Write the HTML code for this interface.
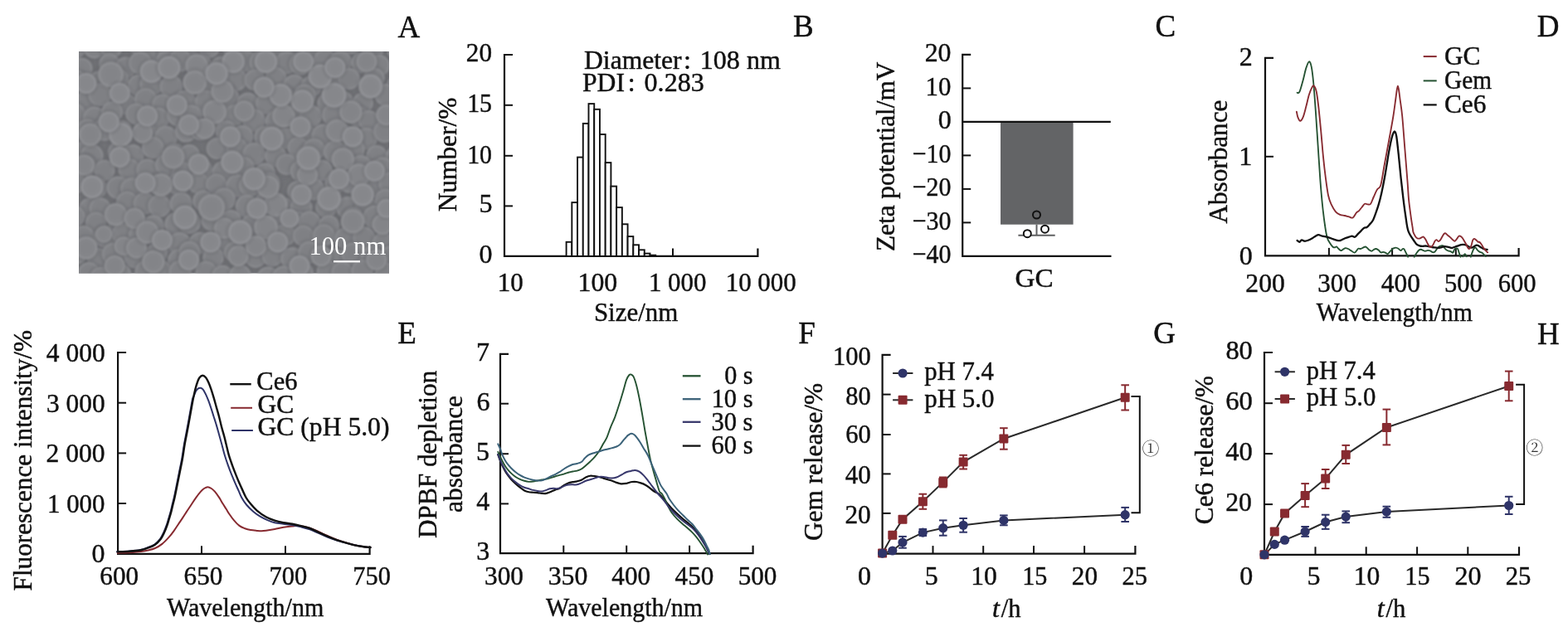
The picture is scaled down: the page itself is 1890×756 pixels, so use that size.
<!DOCTYPE html>
<html><head><meta charset="utf-8"><title>Figure</title>
<style>html,body{margin:0;padding:0;background:#fff}svg{display:block}text{font-family:"Liberation Serif","Noto Serif CJK SC",serif;font-size:32px;fill:#111;stroke:#111;stroke-width:0.45px}</style></head>
<body><svg width="1890" height="756" viewBox="0 0 1890 756">
<rect width="1890" height="756" fill="#fff"/>
<text transform="translate(479.53 44.60) scale(1.0000 1.0)" style="font-size:37px">A</text>
<text transform="translate(956.07 44.20) scale(1.0000 1.0)" style="font-size:37px">B</text>
<text transform="translate(1392.53 44.20) scale(1.0000 1.0)" style="font-size:37px">C</text>
<text transform="translate(1852.87 44.20) scale(1.0000 1.0)" style="font-size:37px">D</text>
<text transform="translate(479.24 414.40) scale(1.0000 1.0)" style="font-size:37px">E</text>
<text transform="translate(962.17 414.40) scale(1.0000 1.0)" style="font-size:37px">F</text>
<text transform="translate(1390.35 414.40) scale(1.0000 1.0)" style="font-size:37px">G</text>
<text transform="translate(1852.98 414.60) scale(1.0000 1.0)" style="font-size:37px">H</text>
<defs><radialGradient id="sg"><stop offset="0" stop-color="#86878b"/><stop offset="0.72" stop-color="#87888c"/><stop offset="0.93" stop-color="#939498"/><stop offset="1" stop-color="#8d8e92"/></radialGradient><radialGradient id="sm"><stop offset="0" stop-color="#838488"/><stop offset="0.72" stop-color="#848589"/><stop offset="0.93" stop-color="#8f9094"/><stop offset="1" stop-color="#898a8e"/></radialGradient><radialGradient id="sb"><stop offset="0" stop-color="#7f8084"/><stop offset="0.72" stop-color="#808185"/><stop offset="0.93" stop-color="#8a8b8f"/><stop offset="1" stop-color="#848589"/></radialGradient><radialGradient id="sh"><stop offset="0.7" stop-color="#5c5d62" stop-opacity="0.34"/><stop offset="1" stop-color="#5c5d62" stop-opacity="0"/></radialGradient><clipPath id="semc"><rect x="95" y="62" width="374" height="267.5"/></clipPath><filter id="semb" x="-5%" y="-5%" width="110%" height="110%"><feGaussianBlur stdDeviation="1.0"/></filter></defs><rect x="95" y="62" width="374" height="267.5" fill="#717276"/><g clip-path="url(#semc)"><g filter="url(#semb)"><circle cx="89.4" cy="57.7" r="19.2" fill="url(#sh)"/><circle cx="89.4" cy="57.7" r="13.9" fill="url(#sb)"/><circle cx="113.6" cy="57.1" r="18.5" fill="url(#sh)"/><circle cx="113.6" cy="57.1" r="13.4" fill="url(#sb)"/><circle cx="134.2" cy="57.1" r="18.6" fill="url(#sh)"/><circle cx="134.2" cy="57.1" r="13.4" fill="url(#sb)"/><circle cx="165.5" cy="52.1" r="17.9" fill="url(#sh)"/><circle cx="165.5" cy="52.1" r="13.0" fill="url(#sb)"/><circle cx="181.1" cy="60.7" r="18.7" fill="url(#sh)"/><circle cx="181.1" cy="60.7" r="13.5" fill="url(#sb)"/><circle cx="204.5" cy="62.8" r="19.2" fill="url(#sh)"/><circle cx="204.5" cy="62.8" r="13.9" fill="url(#sb)"/><circle cx="235.8" cy="58.4" r="17.6" fill="url(#sh)"/><circle cx="235.8" cy="58.4" r="12.7" fill="url(#sb)"/><circle cx="252.2" cy="57.3" r="17.4" fill="url(#sh)"/><circle cx="252.2" cy="57.3" r="12.6" fill="url(#sb)"/><circle cx="278.3" cy="53.9" r="17.3" fill="url(#sh)"/><circle cx="278.3" cy="53.9" r="12.5" fill="url(#sb)"/><circle cx="305.6" cy="56.3" r="19.0" fill="url(#sh)"/><circle cx="305.6" cy="56.3" r="13.8" fill="url(#sb)"/><circle cx="330.2" cy="58.7" r="18.3" fill="url(#sh)"/><circle cx="330.2" cy="58.7" r="13.2" fill="url(#sb)"/><circle cx="355.9" cy="56.5" r="17.8" fill="url(#sh)"/><circle cx="355.9" cy="56.5" r="12.9" fill="url(#sb)"/><circle cx="384.0" cy="62.9" r="19.0" fill="url(#sh)"/><circle cx="384.0" cy="62.9" r="13.8" fill="url(#sb)"/><circle cx="404.5" cy="54.8" r="17.7" fill="url(#sh)"/><circle cx="404.5" cy="54.8" r="12.8" fill="url(#sb)"/><circle cx="423.5" cy="51.8" r="18.8" fill="url(#sh)"/><circle cx="423.5" cy="51.8" r="13.6" fill="url(#sb)"/><circle cx="448.8" cy="61.2" r="18.1" fill="url(#sh)"/><circle cx="448.8" cy="61.2" r="13.1" fill="url(#sb)"/><circle cx="479.5" cy="61.2" r="17.3" fill="url(#sh)"/><circle cx="479.5" cy="61.2" r="12.5" fill="url(#sb)"/><circle cx="98.5" cy="82.9" r="18.2" fill="url(#sh)"/><circle cx="98.5" cy="82.9" r="13.2" fill="url(#sb)"/><circle cx="131.8" cy="76.8" r="17.4" fill="url(#sh)"/><circle cx="131.8" cy="76.8" r="12.6" fill="url(#sb)"/><circle cx="151.6" cy="81.3" r="17.8" fill="url(#sh)"/><circle cx="151.6" cy="81.3" r="12.9" fill="url(#sb)"/><circle cx="169.0" cy="76.0" r="19.2" fill="url(#sh)"/><circle cx="169.0" cy="76.0" r="13.9" fill="url(#sb)"/><circle cx="201.1" cy="73.4" r="17.8" fill="url(#sh)"/><circle cx="201.1" cy="73.4" r="12.9" fill="url(#sb)"/><circle cx="217.2" cy="72.7" r="18.9" fill="url(#sh)"/><circle cx="217.2" cy="72.7" r="13.7" fill="url(#sb)"/><circle cx="242.1" cy="78.7" r="18.2" fill="url(#sh)"/><circle cx="242.1" cy="78.7" r="13.2" fill="url(#sb)"/><circle cx="266.3" cy="80.8" r="17.5" fill="url(#sh)"/><circle cx="266.3" cy="80.8" r="12.7" fill="url(#sb)"/><circle cx="295.7" cy="73.4" r="18.1" fill="url(#sh)"/><circle cx="295.7" cy="73.4" r="13.1" fill="url(#sb)"/><circle cx="314.6" cy="75.2" r="19.3" fill="url(#sh)"/><circle cx="314.6" cy="75.2" r="14.0" fill="url(#sb)"/><circle cx="345.6" cy="75.6" r="19.1" fill="url(#sh)"/><circle cx="345.6" cy="75.6" r="13.8" fill="url(#sb)"/><circle cx="362.5" cy="76.7" r="19.0" fill="url(#sh)"/><circle cx="362.5" cy="76.7" r="13.8" fill="url(#sb)"/><circle cx="391.7" cy="73.2" r="19.3" fill="url(#sh)"/><circle cx="391.7" cy="73.2" r="14.0" fill="url(#sb)"/><circle cx="410.6" cy="75.1" r="18.8" fill="url(#sh)"/><circle cx="410.6" cy="75.1" r="13.7" fill="url(#sb)"/><circle cx="435.9" cy="75.6" r="17.4" fill="url(#sh)"/><circle cx="435.9" cy="75.6" r="12.6" fill="url(#sb)"/><circle cx="457.1" cy="79.0" r="17.8" fill="url(#sh)"/><circle cx="457.1" cy="79.0" r="12.9" fill="url(#sb)"/><circle cx="91.2" cy="97.5" r="18.2" fill="url(#sh)"/><circle cx="91.2" cy="97.5" r="13.2" fill="url(#sb)"/><circle cx="119.5" cy="98.8" r="18.4" fill="url(#sh)"/><circle cx="119.5" cy="98.8" r="13.4" fill="url(#sb)"/><circle cx="142.4" cy="95.2" r="17.6" fill="url(#sh)"/><circle cx="142.4" cy="95.2" r="12.7" fill="url(#sb)"/><circle cx="166.9" cy="102.8" r="17.8" fill="url(#sh)"/><circle cx="166.9" cy="102.8" r="12.9" fill="url(#sb)"/><circle cx="182.3" cy="101.9" r="19.2" fill="url(#sh)"/><circle cx="182.3" cy="101.9" r="13.9" fill="url(#sb)"/><circle cx="206.4" cy="104.4" r="19.1" fill="url(#sh)"/><circle cx="206.4" cy="104.4" r="13.8" fill="url(#sb)"/><circle cx="235.2" cy="98.1" r="17.5" fill="url(#sh)"/><circle cx="235.2" cy="98.1" r="12.7" fill="url(#sb)"/><circle cx="252.5" cy="104.6" r="17.7" fill="url(#sh)"/><circle cx="252.5" cy="104.6" r="12.9" fill="url(#sb)"/><circle cx="284.5" cy="96.1" r="19.0" fill="url(#sh)"/><circle cx="284.5" cy="96.1" r="13.7" fill="url(#sb)"/><circle cx="307.2" cy="96.5" r="17.6" fill="url(#sh)"/><circle cx="307.2" cy="96.5" r="12.8" fill="url(#sb)"/><circle cx="332.6" cy="93.8" r="17.7" fill="url(#sh)"/><circle cx="332.6" cy="93.8" r="12.8" fill="url(#sb)"/><circle cx="354.7" cy="103.2" r="18.5" fill="url(#sh)"/><circle cx="354.7" cy="103.2" r="13.4" fill="url(#sb)"/><circle cx="375.4" cy="104.0" r="17.7" fill="url(#sh)"/><circle cx="375.4" cy="104.0" r="12.8" fill="url(#sb)"/><circle cx="396.2" cy="96.2" r="18.2" fill="url(#sh)"/><circle cx="396.2" cy="96.2" r="13.2" fill="url(#sb)"/><circle cx="420.7" cy="95.1" r="18.0" fill="url(#sh)"/><circle cx="420.7" cy="95.1" r="13.1" fill="url(#sb)"/><circle cx="450.9" cy="94.6" r="18.0" fill="url(#sh)"/><circle cx="450.9" cy="94.6" r="13.0" fill="url(#sb)"/><circle cx="478.7" cy="104.8" r="18.6" fill="url(#sh)"/><circle cx="478.7" cy="104.8" r="13.5" fill="url(#sb)"/><circle cx="104.3" cy="121.0" r="17.5" fill="url(#sh)"/><circle cx="104.3" cy="121.0" r="12.7" fill="url(#sb)"/><circle cx="120.4" cy="114.2" r="19.1" fill="url(#sh)"/><circle cx="120.4" cy="114.2" r="13.9" fill="url(#sb)"/><circle cx="152.4" cy="125.6" r="17.3" fill="url(#sh)"/><circle cx="152.4" cy="125.6" r="12.5" fill="url(#sb)"/><circle cx="175.6" cy="119.8" r="18.8" fill="url(#sh)"/><circle cx="175.6" cy="119.8" r="13.6" fill="url(#sb)"/><circle cx="195.8" cy="126.0" r="17.4" fill="url(#sh)"/><circle cx="195.8" cy="126.0" r="12.6" fill="url(#sb)"/><circle cx="222.6" cy="122.8" r="19.1" fill="url(#sh)"/><circle cx="222.6" cy="122.8" r="13.9" fill="url(#sb)"/><circle cx="248.8" cy="122.4" r="18.9" fill="url(#sh)"/><circle cx="248.8" cy="122.4" r="13.7" fill="url(#sb)"/><circle cx="275.0" cy="118.2" r="18.7" fill="url(#sh)"/><circle cx="275.0" cy="118.2" r="13.5" fill="url(#sb)"/><circle cx="298.8" cy="124.5" r="18.1" fill="url(#sh)"/><circle cx="298.8" cy="124.5" r="13.1" fill="url(#sb)"/><circle cx="321.5" cy="124.4" r="18.4" fill="url(#sh)"/><circle cx="321.5" cy="124.4" r="13.4" fill="url(#sb)"/><circle cx="343.5" cy="118.6" r="18.5" fill="url(#sh)"/><circle cx="343.5" cy="118.6" r="13.4" fill="url(#sb)"/><circle cx="367.3" cy="115.0" r="18.6" fill="url(#sh)"/><circle cx="367.3" cy="115.0" r="13.5" fill="url(#sb)"/><circle cx="395.9" cy="124.6" r="18.8" fill="url(#sh)"/><circle cx="395.9" cy="124.6" r="13.6" fill="url(#sb)"/><circle cx="412.7" cy="122.8" r="18.5" fill="url(#sh)"/><circle cx="412.7" cy="122.8" r="13.4" fill="url(#sb)"/><circle cx="437.3" cy="124.1" r="17.4" fill="url(#sh)"/><circle cx="437.3" cy="124.1" r="12.6" fill="url(#sb)"/><circle cx="465.0" cy="114.4" r="18.5" fill="url(#sh)"/><circle cx="465.0" cy="114.4" r="13.4" fill="url(#sb)"/><circle cx="89.8" cy="137.8" r="18.7" fill="url(#sh)"/><circle cx="89.8" cy="137.8" r="13.5" fill="url(#sb)"/><circle cx="114.0" cy="142.4" r="19.2" fill="url(#sh)"/><circle cx="114.0" cy="142.4" r="13.9" fill="url(#sb)"/><circle cx="135.1" cy="135.1" r="17.9" fill="url(#sh)"/><circle cx="135.1" cy="135.1" r="13.0" fill="url(#sb)"/><circle cx="164.1" cy="137.4" r="17.6" fill="url(#sh)"/><circle cx="164.1" cy="137.4" r="12.8" fill="url(#sb)"/><circle cx="190.9" cy="142.9" r="18.2" fill="url(#sh)"/><circle cx="190.9" cy="142.9" r="13.2" fill="url(#sb)"/><circle cx="214.7" cy="138.9" r="18.6" fill="url(#sh)"/><circle cx="214.7" cy="138.9" r="13.5" fill="url(#sb)"/><circle cx="230.4" cy="140.2" r="18.9" fill="url(#sh)"/><circle cx="230.4" cy="140.2" r="13.7" fill="url(#sb)"/><circle cx="263.0" cy="145.6" r="18.0" fill="url(#sh)"/><circle cx="263.0" cy="145.6" r="13.1" fill="url(#sb)"/><circle cx="283.0" cy="138.8" r="17.5" fill="url(#sh)"/><circle cx="283.0" cy="138.8" r="12.7" fill="url(#sb)"/><circle cx="306.0" cy="145.0" r="19.0" fill="url(#sh)"/><circle cx="306.0" cy="145.0" r="13.8" fill="url(#sb)"/><circle cx="332.5" cy="146.4" r="17.8" fill="url(#sh)"/><circle cx="332.5" cy="146.4" r="12.9" fill="url(#sb)"/><circle cx="350.0" cy="140.4" r="17.8" fill="url(#sh)"/><circle cx="350.0" cy="140.4" r="12.9" fill="url(#sb)"/><circle cx="374.6" cy="140.0" r="18.5" fill="url(#sh)"/><circle cx="374.6" cy="140.0" r="13.4" fill="url(#sb)"/><circle cx="401.9" cy="138.8" r="19.0" fill="url(#sh)"/><circle cx="401.9" cy="138.8" r="13.8" fill="url(#sb)"/><circle cx="431.8" cy="140.4" r="17.4" fill="url(#sh)"/><circle cx="431.8" cy="140.4" r="12.6" fill="url(#sb)"/><circle cx="444.4" cy="145.5" r="17.3" fill="url(#sh)"/><circle cx="444.4" cy="145.5" r="12.6" fill="url(#sb)"/><circle cx="476.5" cy="141.8" r="17.9" fill="url(#sh)"/><circle cx="476.5" cy="141.8" r="13.0" fill="url(#sb)"/><circle cx="105.5" cy="156.2" r="17.5" fill="url(#sh)"/><circle cx="105.5" cy="156.2" r="12.7" fill="url(#sb)"/><circle cx="125.5" cy="156.3" r="19.0" fill="url(#sh)"/><circle cx="125.5" cy="156.3" r="13.7" fill="url(#sb)"/><circle cx="146.8" cy="157.7" r="17.3" fill="url(#sh)"/><circle cx="146.8" cy="157.7" r="12.6" fill="url(#sb)"/><circle cx="175.6" cy="161.4" r="18.6" fill="url(#sh)"/><circle cx="175.6" cy="161.4" r="13.4" fill="url(#sb)"/><circle cx="199.9" cy="165.7" r="19.2" fill="url(#sh)"/><circle cx="199.9" cy="165.7" r="13.9" fill="url(#sb)"/><circle cx="224.2" cy="158.4" r="18.2" fill="url(#sh)"/><circle cx="224.2" cy="158.4" r="13.2" fill="url(#sb)"/><circle cx="242.1" cy="156.1" r="18.2" fill="url(#sh)"/><circle cx="242.1" cy="156.1" r="13.2" fill="url(#sb)"/><circle cx="272.6" cy="158.1" r="17.8" fill="url(#sh)"/><circle cx="272.6" cy="158.1" r="12.9" fill="url(#sb)"/><circle cx="292.1" cy="164.4" r="18.3" fill="url(#sh)"/><circle cx="292.1" cy="164.4" r="13.3" fill="url(#sb)"/><circle cx="319.4" cy="165.1" r="18.1" fill="url(#sh)"/><circle cx="319.4" cy="165.1" r="13.1" fill="url(#sb)"/><circle cx="345.5" cy="166.9" r="17.4" fill="url(#sh)"/><circle cx="345.5" cy="166.9" r="12.6" fill="url(#sb)"/><circle cx="371.2" cy="164.7" r="17.5" fill="url(#sh)"/><circle cx="371.2" cy="164.7" r="12.7" fill="url(#sb)"/><circle cx="389.4" cy="163.5" r="19.1" fill="url(#sh)"/><circle cx="389.4" cy="163.5" r="13.9" fill="url(#sb)"/><circle cx="412.5" cy="162.8" r="19.1" fill="url(#sh)"/><circle cx="412.5" cy="162.8" r="13.8" fill="url(#sb)"/><circle cx="441.6" cy="167.3" r="18.2" fill="url(#sh)"/><circle cx="441.6" cy="167.3" r="13.2" fill="url(#sb)"/><circle cx="463.8" cy="158.5" r="18.7" fill="url(#sh)"/><circle cx="463.8" cy="158.5" r="13.6" fill="url(#sb)"/><circle cx="93.8" cy="184.7" r="18.7" fill="url(#sh)"/><circle cx="93.8" cy="184.7" r="13.6" fill="url(#sb)"/><circle cx="110.6" cy="187.8" r="19.3" fill="url(#sh)"/><circle cx="110.6" cy="187.8" r="14.0" fill="url(#sb)"/><circle cx="143.7" cy="183.4" r="18.9" fill="url(#sh)"/><circle cx="143.7" cy="183.4" r="13.7" fill="url(#sb)"/><circle cx="159.8" cy="187.9" r="19.0" fill="url(#sh)"/><circle cx="159.8" cy="187.9" r="13.8" fill="url(#sb)"/><circle cx="184.2" cy="178.0" r="18.2" fill="url(#sh)"/><circle cx="184.2" cy="178.0" r="13.2" fill="url(#sb)"/><circle cx="210.6" cy="186.2" r="18.3" fill="url(#sh)"/><circle cx="210.6" cy="186.2" r="13.2" fill="url(#sb)"/><circle cx="228.3" cy="186.7" r="17.4" fill="url(#sh)"/><circle cx="228.3" cy="186.7" r="12.6" fill="url(#sb)"/><circle cx="261.6" cy="179.1" r="17.9" fill="url(#sh)"/><circle cx="261.6" cy="179.1" r="13.0" fill="url(#sb)"/><circle cx="285.5" cy="178.7" r="17.6" fill="url(#sh)"/><circle cx="285.5" cy="178.7" r="12.7" fill="url(#sb)"/><circle cx="306.2" cy="185.7" r="19.0" fill="url(#sh)"/><circle cx="306.2" cy="185.7" r="13.8" fill="url(#sb)"/><circle cx="332.3" cy="188.3" r="18.3" fill="url(#sh)"/><circle cx="332.3" cy="188.3" r="13.2" fill="url(#sb)"/><circle cx="359.4" cy="178.0" r="17.7" fill="url(#sh)"/><circle cx="359.4" cy="178.0" r="12.8" fill="url(#sb)"/><circle cx="378.3" cy="180.5" r="18.8" fill="url(#sh)"/><circle cx="378.3" cy="180.5" r="13.6" fill="url(#sb)"/><circle cx="403.7" cy="183.3" r="19.0" fill="url(#sh)"/><circle cx="403.7" cy="183.3" r="13.8" fill="url(#sb)"/><circle cx="426.7" cy="180.7" r="18.0" fill="url(#sh)"/><circle cx="426.7" cy="180.7" r="13.1" fill="url(#sb)"/><circle cx="454.1" cy="187.8" r="17.7" fill="url(#sh)"/><circle cx="454.1" cy="187.8" r="12.8" fill="url(#sb)"/><circle cx="478.2" cy="188.6" r="18.3" fill="url(#sh)"/><circle cx="478.2" cy="188.6" r="13.3" fill="url(#sb)"/><circle cx="102.9" cy="200.4" r="18.4" fill="url(#sh)"/><circle cx="102.9" cy="200.4" r="13.3" fill="url(#sb)"/><circle cx="126.0" cy="205.3" r="17.3" fill="url(#sh)"/><circle cx="126.0" cy="205.3" r="12.5" fill="url(#sb)"/><circle cx="155.6" cy="204.2" r="18.1" fill="url(#sh)"/><circle cx="155.6" cy="204.2" r="13.1" fill="url(#sb)"/><circle cx="177.6" cy="204.8" r="18.3" fill="url(#sh)"/><circle cx="177.6" cy="204.8" r="13.2" fill="url(#sb)"/><circle cx="200.3" cy="198.8" r="18.4" fill="url(#sh)"/><circle cx="200.3" cy="198.8" r="13.3" fill="url(#sb)"/><circle cx="221.0" cy="209.5" r="19.2" fill="url(#sh)"/><circle cx="221.0" cy="209.5" r="13.9" fill="url(#sb)"/><circle cx="243.2" cy="203.7" r="17.5" fill="url(#sh)"/><circle cx="243.2" cy="203.7" r="12.7" fill="url(#sb)"/><circle cx="269.2" cy="207.8" r="19.1" fill="url(#sh)"/><circle cx="269.2" cy="207.8" r="13.9" fill="url(#sb)"/><circle cx="293.7" cy="201.8" r="17.6" fill="url(#sh)"/><circle cx="293.7" cy="201.8" r="12.8" fill="url(#sb)"/><circle cx="319.4" cy="209.1" r="17.5" fill="url(#sh)"/><circle cx="319.4" cy="209.1" r="12.7" fill="url(#sb)"/><circle cx="345.4" cy="198.3" r="17.7" fill="url(#sh)"/><circle cx="345.4" cy="198.3" r="12.8" fill="url(#sb)"/><circle cx="362.7" cy="206.2" r="17.9" fill="url(#sh)"/><circle cx="362.7" cy="206.2" r="13.0" fill="url(#sb)"/><circle cx="388.3" cy="205.4" r="17.5" fill="url(#sh)"/><circle cx="388.3" cy="205.4" r="12.7" fill="url(#sb)"/><circle cx="416.8" cy="199.5" r="18.3" fill="url(#sh)"/><circle cx="416.8" cy="199.5" r="13.3" fill="url(#sb)"/><circle cx="435.0" cy="200.4" r="18.3" fill="url(#sh)"/><circle cx="435.0" cy="200.4" r="13.3" fill="url(#sb)"/><circle cx="461.2" cy="202.5" r="18.1" fill="url(#sh)"/><circle cx="461.2" cy="202.5" r="13.1" fill="url(#sb)"/><circle cx="90.4" cy="220.9" r="17.7" fill="url(#sh)"/><circle cx="90.4" cy="220.9" r="12.8" fill="url(#sb)"/><circle cx="115.6" cy="226.7" r="18.3" fill="url(#sh)"/><circle cx="115.6" cy="226.7" r="13.3" fill="url(#sb)"/><circle cx="142.2" cy="226.3" r="19.0" fill="url(#sh)"/><circle cx="142.2" cy="226.3" r="13.8" fill="url(#sb)"/><circle cx="158.8" cy="227.9" r="18.9" fill="url(#sh)"/><circle cx="158.8" cy="227.9" r="13.7" fill="url(#sb)"/><circle cx="190.8" cy="222.8" r="17.9" fill="url(#sh)"/><circle cx="190.8" cy="222.8" r="13.0" fill="url(#sb)"/><circle cx="215.1" cy="221.6" r="19.3" fill="url(#sh)"/><circle cx="215.1" cy="221.6" r="14.0" fill="url(#sb)"/><circle cx="238.7" cy="220.6" r="17.7" fill="url(#sh)"/><circle cx="238.7" cy="220.6" r="12.9" fill="url(#sb)"/><circle cx="260.7" cy="222.1" r="17.5" fill="url(#sh)"/><circle cx="260.7" cy="222.1" r="12.6" fill="url(#sb)"/><circle cx="286.0" cy="224.1" r="18.9" fill="url(#sh)"/><circle cx="286.0" cy="224.1" r="13.7" fill="url(#sb)"/><circle cx="301.5" cy="223.8" r="18.7" fill="url(#sh)"/><circle cx="301.5" cy="223.8" r="13.5" fill="url(#sb)"/><circle cx="324.2" cy="221.4" r="18.7" fill="url(#sh)"/><circle cx="324.2" cy="221.4" r="13.5" fill="url(#sb)"/><circle cx="358.9" cy="230.6" r="17.5" fill="url(#sh)"/><circle cx="358.9" cy="230.6" r="12.7" fill="url(#sb)"/><circle cx="378.1" cy="228.1" r="18.3" fill="url(#sh)"/><circle cx="378.1" cy="228.1" r="13.3" fill="url(#sb)"/><circle cx="404.2" cy="221.3" r="17.4" fill="url(#sh)"/><circle cx="404.2" cy="221.3" r="12.6" fill="url(#sb)"/><circle cx="421.3" cy="219.4" r="18.4" fill="url(#sh)"/><circle cx="421.3" cy="219.4" r="13.3" fill="url(#sb)"/><circle cx="450.2" cy="225.8" r="17.6" fill="url(#sh)"/><circle cx="450.2" cy="225.8" r="12.7" fill="url(#sb)"/><circle cx="470.2" cy="221.4" r="19.0" fill="url(#sh)"/><circle cx="470.2" cy="221.4" r="13.8" fill="url(#sb)"/><circle cx="107.9" cy="251.1" r="17.4" fill="url(#sh)"/><circle cx="107.9" cy="251.1" r="12.6" fill="url(#sb)"/><circle cx="120.7" cy="251.4" r="18.2" fill="url(#sh)"/><circle cx="120.7" cy="251.4" r="13.2" fill="url(#sb)"/><circle cx="153.2" cy="243.9" r="18.2" fill="url(#sh)"/><circle cx="153.2" cy="243.9" r="13.2" fill="url(#sb)"/><circle cx="174.2" cy="245.2" r="18.5" fill="url(#sh)"/><circle cx="174.2" cy="245.2" r="13.4" fill="url(#sb)"/><circle cx="192.2" cy="248.4" r="19.0" fill="url(#sh)"/><circle cx="192.2" cy="248.4" r="13.8" fill="url(#sb)"/><circle cx="218.2" cy="245.4" r="18.8" fill="url(#sh)"/><circle cx="218.2" cy="245.4" r="13.6" fill="url(#sb)"/><circle cx="244.9" cy="242.3" r="17.6" fill="url(#sh)"/><circle cx="244.9" cy="242.3" r="12.7" fill="url(#sb)"/><circle cx="270.2" cy="240.2" r="19.1" fill="url(#sh)"/><circle cx="270.2" cy="240.2" r="13.8" fill="url(#sb)"/><circle cx="297.6" cy="248.5" r="19.0" fill="url(#sh)"/><circle cx="297.6" cy="248.5" r="13.8" fill="url(#sb)"/><circle cx="319.6" cy="244.9" r="18.5" fill="url(#sh)"/><circle cx="319.6" cy="244.9" r="13.4" fill="url(#sb)"/><circle cx="342.1" cy="251.8" r="18.9" fill="url(#sh)"/><circle cx="342.1" cy="251.8" r="13.7" fill="url(#sb)"/><circle cx="363.1" cy="250.9" r="18.8" fill="url(#sh)"/><circle cx="363.1" cy="250.9" r="13.6" fill="url(#sb)"/><circle cx="393.3" cy="249.8" r="18.1" fill="url(#sh)"/><circle cx="393.3" cy="249.8" r="13.1" fill="url(#sb)"/><circle cx="418.8" cy="250.6" r="18.7" fill="url(#sh)"/><circle cx="418.8" cy="250.6" r="13.5" fill="url(#sb)"/><circle cx="441.2" cy="249.2" r="18.1" fill="url(#sh)"/><circle cx="441.2" cy="249.2" r="13.1" fill="url(#sb)"/><circle cx="464.7" cy="240.8" r="18.0" fill="url(#sh)"/><circle cx="464.7" cy="240.8" r="13.0" fill="url(#sb)"/><circle cx="89.6" cy="261.1" r="18.0" fill="url(#sh)"/><circle cx="89.6" cy="261.1" r="13.0" fill="url(#sb)"/><circle cx="115.7" cy="268.5" r="17.7" fill="url(#sh)"/><circle cx="115.7" cy="268.5" r="12.8" fill="url(#sb)"/><circle cx="143.3" cy="269.0" r="17.9" fill="url(#sh)"/><circle cx="143.3" cy="269.0" r="13.0" fill="url(#sb)"/><circle cx="163.9" cy="267.8" r="18.4" fill="url(#sh)"/><circle cx="163.9" cy="267.8" r="13.3" fill="url(#sb)"/><circle cx="184.7" cy="273.0" r="18.6" fill="url(#sh)"/><circle cx="184.7" cy="273.0" r="13.5" fill="url(#sb)"/><circle cx="212.4" cy="270.1" r="19.3" fill="url(#sh)"/><circle cx="212.4" cy="270.1" r="14.0" fill="url(#sb)"/><circle cx="228.3" cy="268.4" r="18.8" fill="url(#sh)"/><circle cx="228.3" cy="268.4" r="13.6" fill="url(#sb)"/><circle cx="255.1" cy="265.8" r="17.4" fill="url(#sh)"/><circle cx="255.1" cy="265.8" r="12.6" fill="url(#sb)"/><circle cx="278.3" cy="265.5" r="17.5" fill="url(#sh)"/><circle cx="278.3" cy="265.5" r="12.6" fill="url(#sb)"/><circle cx="303.0" cy="271.9" r="18.4" fill="url(#sh)"/><circle cx="303.0" cy="271.9" r="13.3" fill="url(#sb)"/><circle cx="330.1" cy="272.6" r="18.4" fill="url(#sh)"/><circle cx="330.1" cy="272.6" r="13.4" fill="url(#sb)"/><circle cx="359.9" cy="268.7" r="18.9" fill="url(#sh)"/><circle cx="359.9" cy="268.7" r="13.7" fill="url(#sb)"/><circle cx="372.9" cy="268.2" r="18.8" fill="url(#sh)"/><circle cx="372.9" cy="268.2" r="13.6" fill="url(#sb)"/><circle cx="396.5" cy="272.2" r="17.6" fill="url(#sh)"/><circle cx="396.5" cy="272.2" r="12.7" fill="url(#sb)"/><circle cx="425.7" cy="263.0" r="18.3" fill="url(#sh)"/><circle cx="425.7" cy="263.0" r="13.2" fill="url(#sb)"/><circle cx="451.3" cy="261.7" r="19.2" fill="url(#sh)"/><circle cx="451.3" cy="261.7" r="13.9" fill="url(#sb)"/><circle cx="473.0" cy="267.3" r="18.5" fill="url(#sh)"/><circle cx="473.0" cy="267.3" r="13.4" fill="url(#sb)"/><circle cx="100.4" cy="285.4" r="18.6" fill="url(#sh)"/><circle cx="100.4" cy="285.4" r="13.5" fill="url(#sb)"/><circle cx="126.7" cy="285.4" r="18.7" fill="url(#sh)"/><circle cx="126.7" cy="285.4" r="13.6" fill="url(#sb)"/><circle cx="147.6" cy="282.2" r="17.8" fill="url(#sh)"/><circle cx="147.6" cy="282.2" r="12.9" fill="url(#sb)"/><circle cx="168.5" cy="283.9" r="18.8" fill="url(#sh)"/><circle cx="168.5" cy="283.9" r="13.6" fill="url(#sb)"/><circle cx="196.7" cy="292.8" r="18.8" fill="url(#sh)"/><circle cx="196.7" cy="292.8" r="13.6" fill="url(#sb)"/><circle cx="216.6" cy="293.9" r="19.2" fill="url(#sh)"/><circle cx="216.6" cy="293.9" r="13.9" fill="url(#sb)"/><circle cx="240.9" cy="292.9" r="18.1" fill="url(#sh)"/><circle cx="240.9" cy="292.9" r="13.1" fill="url(#sb)"/><circle cx="269.7" cy="293.7" r="17.8" fill="url(#sh)"/><circle cx="269.7" cy="293.7" r="12.9" fill="url(#sb)"/><circle cx="294.3" cy="293.2" r="18.7" fill="url(#sh)"/><circle cx="294.3" cy="293.2" r="13.6" fill="url(#sb)"/><circle cx="317.6" cy="293.7" r="18.9" fill="url(#sh)"/><circle cx="317.6" cy="293.7" r="13.7" fill="url(#sb)"/><circle cx="343.2" cy="283.4" r="18.5" fill="url(#sh)"/><circle cx="343.2" cy="283.4" r="13.4" fill="url(#sb)"/><circle cx="365.5" cy="284.4" r="17.4" fill="url(#sh)"/><circle cx="365.5" cy="284.4" r="12.6" fill="url(#sb)"/><circle cx="390.3" cy="283.5" r="18.2" fill="url(#sh)"/><circle cx="390.3" cy="283.5" r="13.2" fill="url(#sb)"/><circle cx="416.0" cy="287.5" r="17.8" fill="url(#sh)"/><circle cx="416.0" cy="287.5" r="12.9" fill="url(#sb)"/><circle cx="439.0" cy="287.0" r="18.9" fill="url(#sh)"/><circle cx="439.0" cy="287.0" r="13.7" fill="url(#sb)"/><circle cx="462.4" cy="294.0" r="19.2" fill="url(#sh)"/><circle cx="462.4" cy="294.0" r="13.9" fill="url(#sb)"/><circle cx="92.8" cy="305.9" r="17.5" fill="url(#sh)"/><circle cx="92.8" cy="305.9" r="12.7" fill="url(#sb)"/><circle cx="118.7" cy="312.4" r="18.5" fill="url(#sh)"/><circle cx="118.7" cy="312.4" r="13.4" fill="url(#sb)"/><circle cx="136.3" cy="306.3" r="18.7" fill="url(#sh)"/><circle cx="136.3" cy="306.3" r="13.5" fill="url(#sb)"/><circle cx="162.8" cy="310.1" r="18.6" fill="url(#sh)"/><circle cx="162.8" cy="310.1" r="13.4" fill="url(#sb)"/><circle cx="189.0" cy="305.3" r="17.8" fill="url(#sh)"/><circle cx="189.0" cy="305.3" r="12.9" fill="url(#sb)"/><circle cx="215.8" cy="314.0" r="19.1" fill="url(#sh)"/><circle cx="215.8" cy="314.0" r="13.8" fill="url(#sb)"/><circle cx="228.5" cy="303.7" r="17.8" fill="url(#sh)"/><circle cx="228.5" cy="303.7" r="12.9" fill="url(#sb)"/><circle cx="257.1" cy="310.5" r="17.5" fill="url(#sh)"/><circle cx="257.1" cy="310.5" r="12.7" fill="url(#sb)"/><circle cx="282.5" cy="303.9" r="17.4" fill="url(#sh)"/><circle cx="282.5" cy="303.9" r="12.6" fill="url(#sb)"/><circle cx="308.1" cy="309.6" r="18.6" fill="url(#sh)"/><circle cx="308.1" cy="309.6" r="13.4" fill="url(#sb)"/><circle cx="328.5" cy="308.7" r="17.7" fill="url(#sh)"/><circle cx="328.5" cy="308.7" r="12.8" fill="url(#sb)"/><circle cx="352.1" cy="311.9" r="19.0" fill="url(#sh)"/><circle cx="352.1" cy="311.9" r="13.8" fill="url(#sb)"/><circle cx="372.9" cy="304.4" r="18.9" fill="url(#sh)"/><circle cx="372.9" cy="304.4" r="13.7" fill="url(#sb)"/><circle cx="403.5" cy="312.2" r="17.7" fill="url(#sh)"/><circle cx="403.5" cy="312.2" r="12.8" fill="url(#sb)"/><circle cx="425.1" cy="306.1" r="18.9" fill="url(#sh)"/><circle cx="425.1" cy="306.1" r="13.7" fill="url(#sb)"/><circle cx="448.4" cy="310.8" r="19.3" fill="url(#sh)"/><circle cx="448.4" cy="310.8" r="14.0" fill="url(#sb)"/><circle cx="471.9" cy="309.6" r="18.8" fill="url(#sh)"/><circle cx="471.9" cy="309.6" r="13.6" fill="url(#sb)"/><circle cx="107.0" cy="329.1" r="18.0" fill="url(#sh)"/><circle cx="107.0" cy="329.1" r="13.1" fill="url(#sb)"/><circle cx="121.2" cy="334.5" r="17.4" fill="url(#sh)"/><circle cx="121.2" cy="334.5" r="12.6" fill="url(#sb)"/><circle cx="145.0" cy="330.8" r="18.3" fill="url(#sh)"/><circle cx="145.0" cy="330.8" r="13.2" fill="url(#sb)"/><circle cx="176.2" cy="327.6" r="18.9" fill="url(#sh)"/><circle cx="176.2" cy="327.6" r="13.7" fill="url(#sb)"/><circle cx="192.9" cy="326.6" r="18.6" fill="url(#sh)"/><circle cx="192.9" cy="326.6" r="13.5" fill="url(#sb)"/><circle cx="217.0" cy="327.6" r="18.8" fill="url(#sh)"/><circle cx="217.0" cy="327.6" r="13.6" fill="url(#sb)"/><circle cx="248.3" cy="327.4" r="17.5" fill="url(#sh)"/><circle cx="248.3" cy="327.4" r="12.7" fill="url(#sb)"/><circle cx="268.3" cy="332.7" r="18.0" fill="url(#sh)"/><circle cx="268.3" cy="332.7" r="13.0" fill="url(#sb)"/><circle cx="289.4" cy="332.5" r="18.4" fill="url(#sh)"/><circle cx="289.4" cy="332.5" r="13.4" fill="url(#sb)"/><circle cx="323.0" cy="335.3" r="19.1" fill="url(#sh)"/><circle cx="323.0" cy="335.3" r="13.9" fill="url(#sb)"/><circle cx="341.3" cy="333.6" r="17.9" fill="url(#sh)"/><circle cx="341.3" cy="333.6" r="13.0" fill="url(#sb)"/><circle cx="363.8" cy="328.8" r="19.2" fill="url(#sh)"/><circle cx="363.8" cy="328.8" r="13.9" fill="url(#sb)"/><circle cx="394.7" cy="327.0" r="18.0" fill="url(#sh)"/><circle cx="394.7" cy="327.0" r="13.0" fill="url(#sb)"/><circle cx="412.4" cy="328.4" r="18.1" fill="url(#sh)"/><circle cx="412.4" cy="328.4" r="13.1" fill="url(#sb)"/><circle cx="436.7" cy="326.3" r="18.4" fill="url(#sh)"/><circle cx="436.7" cy="326.3" r="13.3" fill="url(#sb)"/><circle cx="465.6" cy="330.5" r="19.0" fill="url(#sh)"/><circle cx="465.6" cy="330.5" r="13.8" fill="url(#sb)"/><circle cx="208.6" cy="189.5" r="18.9" fill="url(#sh)"/><circle cx="208.6" cy="189.5" r="13.7" fill="url(#sm)"/><circle cx="171.7" cy="160.0" r="17.3" fill="url(#sh)"/><circle cx="171.7" cy="160.0" r="12.5" fill="url(#sm)"/><circle cx="139.5" cy="258.6" r="18.9" fill="url(#sh)"/><circle cx="139.5" cy="258.6" r="13.7" fill="url(#sm)"/><circle cx="370.5" cy="211.0" r="17.3" fill="url(#sh)"/><circle cx="370.5" cy="211.0" r="12.5" fill="url(#sm)"/><circle cx="465.7" cy="138.6" r="17.3" fill="url(#sh)"/><circle cx="465.7" cy="138.6" r="12.5" fill="url(#sm)"/><circle cx="461.0" cy="270.5" r="17.3" fill="url(#sh)"/><circle cx="461.0" cy="270.5" r="12.5" fill="url(#sm)"/><circle cx="413.3" cy="191.9" r="18.9" fill="url(#sh)"/><circle cx="413.3" cy="191.9" r="13.7" fill="url(#sm)"/><circle cx="341.9" cy="139.8" r="18.9" fill="url(#sh)"/><circle cx="341.9" cy="139.8" r="13.7" fill="url(#sm)"/><circle cx="162.1" cy="263.3" r="17.3" fill="url(#sh)"/><circle cx="162.1" cy="263.3" r="12.5" fill="url(#sm)"/><circle cx="406.2" cy="157.6" r="18.9" fill="url(#sh)"/><circle cx="406.2" cy="157.6" r="13.7" fill="url(#sm)"/><circle cx="332.4" cy="246.7" r="19.9" fill="url(#sh)"/><circle cx="332.4" cy="246.7" r="14.4" fill="url(#sm)"/><circle cx="425.2" cy="266.9" r="19.9" fill="url(#sh)"/><circle cx="425.2" cy="266.9" r="14.4" fill="url(#sm)"/><circle cx="194.3" cy="222.9" r="18.9" fill="url(#sh)"/><circle cx="194.3" cy="222.9" r="13.7" fill="url(#sm)"/><circle cx="432.4" cy="211.0" r="18.9" fill="url(#sh)"/><circle cx="432.4" cy="211.0" r="13.7" fill="url(#sm)"/><circle cx="103.8" cy="299.0" r="18.9" fill="url(#sh)"/><circle cx="103.8" cy="299.0" r="13.7" fill="url(#sm)"/><circle cx="387.1" cy="308.6" r="17.3" fill="url(#sh)"/><circle cx="387.1" cy="308.6" r="12.5" fill="url(#sm)"/><circle cx="149.0" cy="296.7" r="15.6" fill="url(#sh)"/><circle cx="149.0" cy="296.7" r="11.3" fill="url(#sm)"/><circle cx="294.3" cy="133.8" r="17.3" fill="url(#sh)"/><circle cx="294.3" cy="133.8" r="12.5" fill="url(#sm)"/><circle cx="164.5" cy="299.0" r="17.3" fill="url(#sh)"/><circle cx="164.5" cy="299.0" r="12.5" fill="url(#sm)"/><circle cx="237.1" cy="79.0" r="18.9" fill="url(#sh)"/><circle cx="237.1" cy="79.0" r="13.7" fill="url(#sm)"/><circle cx="108.6" cy="162.4" r="18.9" fill="url(#sh)"/><circle cx="108.6" cy="162.4" r="13.7" fill="url(#sm)"/><circle cx="138.3" cy="320.5" r="17.3" fill="url(#sh)"/><circle cx="138.3" cy="320.5" r="12.5" fill="url(#sm)"/><circle cx="422.9" cy="135.0" r="18.9" fill="url(#sh)"/><circle cx="422.9" cy="135.0" r="13.7" fill="url(#sm)"/><circle cx="287.1" cy="308.6" r="17.3" fill="url(#sh)"/><circle cx="287.1" cy="308.6" r="12.5" fill="url(#sm)"/><circle cx="177.6" cy="280.0" r="18.9" fill="url(#sh)"/><circle cx="177.6" cy="280.0" r="13.7" fill="url(#sm)"/><circle cx="258.6" cy="135.0" r="19.9" fill="url(#sh)"/><circle cx="258.6" cy="135.0" r="14.4" fill="url(#sm)"/><circle cx="270.5" cy="275.2" r="17.3" fill="url(#sh)"/><circle cx="270.5" cy="275.2" r="12.5" fill="url(#sm)"/><circle cx="125.2" cy="282.4" r="14.0" fill="url(#sh)"/><circle cx="125.2" cy="282.4" r="10.1" fill="url(#sm)"/><circle cx="320.5" cy="274.0" r="19.9" fill="url(#sh)"/><circle cx="320.5" cy="274.0" r="14.4" fill="url(#sm)"/><circle cx="441.9" cy="74.3" r="17.3" fill="url(#sh)"/><circle cx="441.9" cy="74.3" r="12.5" fill="url(#sm)"/><circle cx="322.9" cy="225.2" r="18.9" fill="url(#sh)"/><circle cx="322.9" cy="225.2" r="13.7" fill="url(#sm)"/><circle cx="133.6" cy="89.8" r="21.2" fill="url(#sh)"/><circle cx="133.6" cy="89.8" r="15.4" fill="url(#sm)"/><circle cx="453.8" cy="313.3" r="17.3" fill="url(#sh)"/><circle cx="453.8" cy="313.3" r="12.5" fill="url(#sm)"/><circle cx="246.7" cy="155.2" r="17.3" fill="url(#sh)"/><circle cx="246.7" cy="155.2" r="12.5" fill="url(#sm)"/><circle cx="308.6" cy="296.7" r="17.3" fill="url(#sh)"/><circle cx="308.6" cy="296.7" r="12.5" fill="url(#sm)"/><circle cx="234.8" cy="99.3" r="19.9" fill="url(#sh)"/><circle cx="234.8" cy="99.3" r="14.4" fill="url(#sm)"/><circle cx="268.1" cy="110.0" r="18.9" fill="url(#sh)"/><circle cx="268.1" cy="110.0" r="13.7" fill="url(#sm)"/><circle cx="255.0" cy="250.2" r="22.2" fill="url(#sh)"/><circle cx="255.0" cy="250.2" r="16.1" fill="url(#sm)"/><circle cx="184.8" cy="315.7" r="18.9" fill="url(#sh)"/><circle cx="184.8" cy="315.7" r="13.7" fill="url(#sm)"/><circle cx="101.4" cy="199.0" r="17.3" fill="url(#sh)"/><circle cx="101.4" cy="199.0" r="12.5" fill="url(#sm)"/><circle cx="396.7" cy="239.5" r="19.9" fill="url(#sh)"/><circle cx="396.7" cy="239.5" r="14.4" fill="url(#sg)"/><circle cx="371.7" cy="190.7" r="19.9" fill="url(#sh)"/><circle cx="371.7" cy="190.7" r="14.4" fill="url(#sg)"/><circle cx="253.8" cy="291.9" r="17.3" fill="url(#sh)"/><circle cx="253.8" cy="291.9" r="12.5" fill="url(#sg)"/><circle cx="227.6" cy="150.5" r="17.3" fill="url(#sh)"/><circle cx="227.6" cy="150.5" r="12.5" fill="url(#sg)"/><circle cx="362.1" cy="152.9" r="17.3" fill="url(#sh)"/><circle cx="362.1" cy="152.9" r="12.5" fill="url(#sg)"/><circle cx="145.5" cy="162.4" r="19.9" fill="url(#sh)"/><circle cx="145.5" cy="162.4" r="14.4" fill="url(#sg)"/><circle cx="213.3" cy="126.7" r="17.3" fill="url(#sh)"/><circle cx="213.3" cy="126.7" r="12.5" fill="url(#sg)"/><circle cx="425.2" cy="164.8" r="17.3" fill="url(#sh)"/><circle cx="425.2" cy="164.8" r="12.5" fill="url(#sg)"/><circle cx="364.5" cy="121.9" r="18.9" fill="url(#sh)"/><circle cx="364.5" cy="121.9" r="13.7" fill="url(#sg)"/><circle cx="309.8" cy="251.4" r="17.3" fill="url(#sh)"/><circle cx="309.8" cy="251.4" r="12.5" fill="url(#sg)"/><circle cx="402.6" cy="114.8" r="20.5" fill="url(#sh)"/><circle cx="402.6" cy="114.8" r="14.9" fill="url(#sg)"/><circle cx="277.6" cy="164.8" r="17.3" fill="url(#sh)"/><circle cx="277.6" cy="164.8" r="12.5" fill="url(#sg)"/><circle cx="195.5" cy="289.5" r="17.3" fill="url(#sh)"/><circle cx="195.5" cy="289.5" r="12.5" fill="url(#sg)"/><circle cx="408.6" cy="215.7" r="17.3" fill="url(#sh)"/><circle cx="408.6" cy="215.7" r="12.5" fill="url(#sg)"/><circle cx="289.5" cy="280.0" r="19.9" fill="url(#sh)"/><circle cx="289.5" cy="280.0" r="14.4" fill="url(#sg)"/><circle cx="281.2" cy="74.3" r="18.9" fill="url(#sh)"/><circle cx="281.2" cy="74.3" r="13.7" fill="url(#sg)"/><circle cx="386.0" cy="92.1" r="19.9" fill="url(#sh)"/><circle cx="386.0" cy="92.1" r="14.4" fill="url(#sg)"/><circle cx="280.0" cy="195.5" r="18.9" fill="url(#sh)"/><circle cx="280.0" cy="195.5" r="13.7" fill="url(#sg)"/><circle cx="239.5" cy="197.9" r="17.3" fill="url(#sh)"/><circle cx="239.5" cy="197.9" r="12.5" fill="url(#sg)"/><circle cx="182.4" cy="86.2" r="18.9" fill="url(#sh)"/><circle cx="182.4" cy="86.2" r="13.7" fill="url(#sg)"/><circle cx="261.0" cy="88.6" r="18.9" fill="url(#sh)"/><circle cx="261.0" cy="88.6" r="13.7" fill="url(#sg)"/><circle cx="334.8" cy="291.9" r="17.3" fill="url(#sh)"/><circle cx="334.8" cy="291.9" r="12.5" fill="url(#sg)"/><circle cx="363.3" cy="234.8" r="17.3" fill="url(#sh)"/><circle cx="363.3" cy="234.8" r="12.5" fill="url(#sg)"/><circle cx="338.3" cy="114.8" r="18.9" fill="url(#sh)"/><circle cx="338.3" cy="114.8" r="13.7" fill="url(#sg)"/><circle cx="144.3" cy="112.4" r="17.3" fill="url(#sh)"/><circle cx="144.3" cy="112.4" r="12.5" fill="url(#sg)"/><circle cx="220.5" cy="218.1" r="17.3" fill="url(#sh)"/><circle cx="220.5" cy="218.1" r="12.5" fill="url(#sg)"/><circle cx="306.2" cy="215.7" r="18.9" fill="url(#sh)"/><circle cx="306.2" cy="215.7" r="13.7" fill="url(#sg)"/><circle cx="403.8" cy="81.4" r="17.3" fill="url(#sh)"/><circle cx="403.8" cy="81.4" r="12.5" fill="url(#sg)"/><circle cx="222.9" cy="262.1" r="19.9" fill="url(#sh)"/><circle cx="222.9" cy="262.1" r="14.4" fill="url(#sg)"/><circle cx="361.0" cy="320.5" r="17.3" fill="url(#sh)"/><circle cx="361.0" cy="320.5" r="12.5" fill="url(#sg)"/><circle cx="365.7" cy="74.3" r="17.3" fill="url(#sh)"/><circle cx="365.7" cy="74.3" r="12.5" fill="url(#sg)"/><circle cx="437.1" cy="234.8" r="18.9" fill="url(#sh)"/><circle cx="437.1" cy="234.8" r="13.7" fill="url(#sg)"/><circle cx="465.7" cy="251.4" r="15.6" fill="url(#sh)"/><circle cx="465.7" cy="251.4" r="11.3" fill="url(#sg)"/><circle cx="318.1" cy="105.2" r="17.3" fill="url(#sh)"/><circle cx="318.1" cy="105.2" r="12.5" fill="url(#sg)"/><circle cx="451.4" cy="206.2" r="17.3" fill="url(#sh)"/><circle cx="451.4" cy="206.2" r="12.5" fill="url(#sg)"/><circle cx="177.6" cy="139.8" r="17.3" fill="url(#sh)"/><circle cx="177.6" cy="139.8" r="12.5" fill="url(#sg)"/><circle cx="144.3" cy="189.5" r="17.3" fill="url(#sh)"/><circle cx="144.3" cy="189.5" r="12.5" fill="url(#sg)"/><circle cx="320.5" cy="74.3" r="18.9" fill="url(#sh)"/><circle cx="320.5" cy="74.3" r="13.7" fill="url(#sg)"/><circle cx="175.2" cy="220.5" r="17.3" fill="url(#sh)"/><circle cx="175.2" cy="220.5" r="12.5" fill="url(#sg)"/><circle cx="327.6" cy="167.1" r="19.9" fill="url(#sh)"/><circle cx="327.6" cy="167.1" r="14.4" fill="url(#sg)"/><circle cx="203.8" cy="81.4" r="18.9" fill="url(#sh)"/><circle cx="203.8" cy="81.4" r="13.7" fill="url(#sg)"/><circle cx="103.8" cy="100.5" r="17.3" fill="url(#sh)"/><circle cx="103.8" cy="100.5" r="12.5" fill="url(#sg)"/><circle cx="111.0" cy="225.2" r="18.9" fill="url(#sh)"/><circle cx="111.0" cy="225.2" r="13.7" fill="url(#sg)"/><circle cx="446.7" cy="104.0" r="19.9" fill="url(#sh)"/><circle cx="446.7" cy="104.0" r="14.4" fill="url(#sg)"/><circle cx="349.0" cy="263.3" r="15.6" fill="url(#sh)"/><circle cx="349.0" cy="263.3" r="11.3" fill="url(#sg)"/><circle cx="131.2" cy="146.9" r="17.3" fill="url(#sh)"/><circle cx="131.2" cy="146.9" r="12.5" fill="url(#sg)"/><circle cx="227.6" cy="313.3" r="17.3" fill="url(#sh)"/><circle cx="227.6" cy="313.3" r="12.5" fill="url(#sg)"/></g></g>
<text transform="translate(372.42 307.40) scale(0.9583 1.0)" style="fill:#fff;stroke:none">100 nm</text>
<line x1="402.00" y1="315.30" x2="434.00" y2="315.30" stroke="#fff" stroke-width="2.2"/>
<path d="M618.00 66.00 L608.00 66.00 L608.00 308.90 L913.40 308.90 L913.40 299.40" fill="none" stroke="#111" stroke-width="2.2" stroke-linejoin="miter"/>
<line x1="608.00" y1="126.80" x2="618.00" y2="126.80" stroke="#111" stroke-width="2.0"/>
<line x1="608.00" y1="187.80" x2="618.00" y2="187.80" stroke="#111" stroke-width="2.0"/>
<line x1="608.00" y1="248.40" x2="618.00" y2="248.40" stroke="#111" stroke-width="2.0"/>
<line x1="811.00" y1="308.90" x2="811.00" y2="299.40" stroke="#111" stroke-width="2.0"/>
<rect x="682.60" y="291.80" width="6.726" height="17.10" fill="#fff" stroke="#111" stroke-width="1.9"/>
<rect x="689.33" y="244.10" width="6.726" height="64.80" fill="#fff" stroke="#111" stroke-width="1.9"/>
<rect x="696.05" y="189.60" width="6.726" height="119.30" fill="#fff" stroke="#111" stroke-width="1.9"/>
<rect x="702.78" y="148.90" width="6.726" height="160.00" fill="#fff" stroke="#111" stroke-width="1.9"/>
<rect x="709.50" y="125.10" width="6.726" height="183.80" fill="#fff" stroke="#111" stroke-width="1.9"/>
<rect x="716.23" y="131.80" width="6.726" height="177.10" fill="#fff" stroke="#111" stroke-width="1.9"/>
<rect x="722.96" y="162.00" width="6.726" height="146.90" fill="#fff" stroke="#111" stroke-width="1.9"/>
<rect x="729.68" y="196.10" width="6.726" height="112.80" fill="#fff" stroke="#111" stroke-width="1.9"/>
<rect x="736.41" y="224.60" width="6.726" height="84.30" fill="#fff" stroke="#111" stroke-width="1.9"/>
<rect x="743.13" y="250.10" width="6.726" height="58.80" fill="#fff" stroke="#111" stroke-width="1.9"/>
<rect x="749.86" y="270.30" width="6.726" height="38.60" fill="#fff" stroke="#111" stroke-width="1.9"/>
<rect x="756.59" y="285.10" width="6.726" height="23.80" fill="#fff" stroke="#111" stroke-width="1.9"/>
<rect x="763.31" y="295.30" width="6.726" height="13.60" fill="#fff" stroke="#111" stroke-width="1.9"/>
<rect x="770.04" y="301.30" width="6.726" height="7.60" fill="#fff" stroke="#111" stroke-width="1.9"/>
<rect x="776.76" y="305.60" width="6.726" height="3.30" fill="#fff" stroke="#111" stroke-width="1.9"/>
<rect x="783.49" y="307.70" width="6.726" height="1.20" fill="#fff" stroke="#111" stroke-width="1.9"/>
<text transform="translate(561.87 73.90) scale(0.9749 1.0)">20</text>
<text transform="translate(563.19 135.40) scale(0.9321 1.0)">15</text>
<text transform="translate(563.19 196.60) scale(0.9321 1.0)">10</text>
<text transform="translate(577.53 256.20) scale(1.0000 1.0)">5</text>
<text transform="translate(577.60 317.30) scale(1.0000 1.0)">0</text>
<text transform="translate(599.69 351.30) scale(0.9679 1.0)">10</text>
<text transform="translate(696.51 351.30) scale(0.9955 1.0)">100</text>
<text transform="translate(781.89 351.30) scale(0.9662 1.0)">1 000</text>
<text transform="translate(874.69 351.30) scale(0.9667 1.0)">10 000</text>
<text transform="translate(715.89 387.30) scale(0.9676 1.0)">Size/nm</text>
<text transform="translate(549.90 255.36) rotate(-90) scale(0.9814 1.0)">Number/%</text>
<text transform="translate(704.03 83.30) scale(0.9880 1.0)">Diameter</text>
<text transform="translate(824.10 83.30) scale(1.0000 1.0)">:</text>
<text transform="translate(843.79 83.30) scale(1.0021 1.0)">108 nm</text>
<text transform="translate(702.03 110.40) scale(0.9879 1.0)">PDI</text>
<text transform="translate(756.70 110.40) scale(1.0000 1.0)">:</text>
<text transform="translate(776.60 110.40) scale(1.0014 1.0)">0.283</text>
<path d="M1170.20 65.90 L1160.20 65.90 L1160.20 308.90 L1339.50 308.90" fill="none" stroke="#111" stroke-width="2.2" stroke-linejoin="miter"/>
<line x1="1160.20" y1="106.40" x2="1170.20" y2="106.40" stroke="#111" stroke-width="2.0"/>
<line x1="1160.20" y1="187.40" x2="1170.20" y2="187.40" stroke="#111" stroke-width="2.0"/>
<line x1="1160.20" y1="227.90" x2="1170.20" y2="227.90" stroke="#111" stroke-width="2.0"/>
<line x1="1160.20" y1="268.40" x2="1170.20" y2="268.40" stroke="#111" stroke-width="2.0"/>
<rect x="1206" y="146.90" width="87.6" height="123.80" fill="#636466"/>
<line x1="1160.20" y1="146.90" x2="1338.80" y2="146.90" stroke="#111" stroke-width="2.2"/>
<line x1="1249.50" y1="270.70" x2="1249.50" y2="283.80" stroke="#5f6062" stroke-width="2.0"/>
<line x1="1227.40" y1="283.80" x2="1271.70" y2="283.80" stroke="#5f6062" stroke-width="2.0"/>
<circle cx="1249.5" cy="259" r="4.5" fill="none" stroke="#111" stroke-width="2"/>
<circle cx="1238.3" cy="281.7" r="4.5" fill="#fff" stroke="#111" stroke-width="2"/>
<circle cx="1259.5" cy="276.2" r="4.5" fill="#fff" stroke="#111" stroke-width="2"/>
<text transform="translate(1114.65 74.10) scale(0.9952 1.0)">20</text>
<text transform="translate(1115.60 114.60) scale(0.9643 1.0)">10</text>
<text transform="translate(1130.65 155.10) scale(1.0000 1.0)">0</text>
<text transform="translate(1099.58 195.50) scale(0.9354 1.0)">−10</text>
<text transform="translate(1099.58 236.30) scale(0.9354 1.0)">−20</text>
<text transform="translate(1099.58 276.80) scale(0.9354 1.0)">−30</text>
<text transform="translate(1099.58 317.30) scale(0.9354 1.0)">−40</text>
<text transform="translate(1223.47 346.30) scale(1.0401 1.0)">GC</text>
<text transform="translate(1077.90 302.99) rotate(-90) scale(0.9779 1.0)">Zeta potential/mV</text>
<path d="M1535.00 69.80 L1525.00 69.80 L1525.00 308.40 L1830.60 308.40 L1830.60 298.90" fill="none" stroke="#111" stroke-width="2.2" stroke-linejoin="miter"/>
<line x1="1525.00" y1="188.80" x2="1535.00" y2="188.80" stroke="#111" stroke-width="2.0"/>
<line x1="1601.90" y1="308.40" x2="1601.90" y2="298.90" stroke="#111" stroke-width="2.0"/>
<line x1="1678.10" y1="308.40" x2="1678.10" y2="298.90" stroke="#111" stroke-width="2.0"/>
<line x1="1754.80" y1="308.40" x2="1754.80" y2="298.90" stroke="#111" stroke-width="2.0"/>
<g clip-path="url(#dclip)"><defs><clipPath id="dclip"><rect x="1520" y="50" width="320" height="261.5"/></clipPath></defs>
<path d="M1563.57 111.79 C1564.05 111.61 1565.24 113.27 1566.43 110.71 C1567.62 108.15 1569.40 101.19 1570.71 96.43 C1572.02 91.67 1573.10 85.83 1574.29 82.14 C1575.48 78.45 1576.79 74.58 1577.86 74.29 C1578.93 73.99 1579.82 76.07 1580.71 80.36 C1581.61 84.64 1582.38 91.37 1583.21 100.00 C1584.05 108.63 1584.82 119.64 1585.71 132.14 C1586.61 144.64 1587.62 160.71 1588.57 175.00 C1589.52 189.29 1590.48 205.36 1591.43 217.86 C1592.38 230.36 1593.27 240.48 1594.29 250.00 C1595.30 259.52 1596.57 268.84 1597.50 275.00 C1598.43 281.16 1599.01 284.02 1599.90 286.98 C1600.78 289.95 1601.74 291.06 1602.81 292.81 C1603.87 294.55 1605.33 296.53 1606.30 297.46 C1607.27 298.39 1607.85 298.39 1608.63 298.39 C1609.40 298.39 1610.18 297.23 1610.95 297.46 C1611.73 297.69 1612.41 299.01 1613.28 299.79 C1614.16 300.57 1615.32 301.92 1616.19 302.12 C1617.07 302.31 1617.65 301.44 1618.52 300.95 C1619.39 300.47 1620.36 299.36 1621.43 299.21 C1622.50 299.05 1623.76 299.54 1624.92 300.02 C1626.09 300.51 1627.16 301.34 1628.42 302.12 C1629.68 302.89 1631.42 304.58 1632.49 304.68 C1633.56 304.78 1634.04 303.52 1634.82 302.70 C1635.60 301.89 1636.27 300.24 1637.15 299.79 C1638.02 299.34 1639.09 300.22 1640.06 300.02 C1641.03 299.83 1642.00 299.05 1642.97 298.63 C1643.94 298.20 1645.01 297.37 1645.88 297.46 C1646.75 297.56 1647.43 298.53 1648.21 299.21 C1648.98 299.89 1649.66 300.95 1650.54 301.54 C1651.41 302.12 1652.57 302.80 1653.45 302.70 C1654.32 302.60 1654.90 301.40 1655.77 300.95 C1656.65 300.51 1657.71 299.93 1658.68 300.02 C1659.65 300.12 1660.62 300.80 1661.59 301.54 C1662.56 302.27 1663.54 304.06 1664.51 304.45 C1665.48 304.84 1666.54 303.83 1667.42 303.86 C1668.29 303.90 1668.87 304.29 1669.74 304.68 C1670.62 305.07 1671.78 306.33 1672.65 306.19 C1673.53 306.06 1674.11 304.78 1674.98 303.86 C1675.86 302.95 1677.02 301.50 1677.89 300.72 C1678.77 299.95 1679.45 299.56 1680.22 299.21 C1681.00 298.86 1681.68 298.53 1682.55 298.63 C1683.42 298.72 1684.49 299.21 1685.46 299.79 C1686.43 300.37 1687.50 302.08 1688.37 302.12 C1689.24 302.16 1690.02 300.31 1690.70 300.02 C1691.38 299.73 1691.77 299.54 1692.44 300.37 C1693.12 301.21 1694.00 303.48 1694.77 305.03 C1695.55 306.58 1696.71 308.91 1697.10 309.69" fill="none" stroke="#255232" stroke-width="1.85" stroke-linecap="round" stroke-linejoin="round"/>
<path d="M1704.67 309.69 C1705.15 308.91 1706.61 306.39 1707.58 305.03 C1708.55 303.67 1709.62 302.25 1710.49 301.54 C1711.36 300.82 1711.94 300.62 1712.82 300.72 C1713.69 300.82 1714.85 301.79 1715.73 302.12 C1716.60 302.45 1717.18 302.74 1718.06 302.70 C1718.93 302.66 1720.00 301.94 1720.97 301.89 C1721.94 301.83 1722.91 301.96 1723.88 302.35 C1724.85 302.74 1725.91 303.96 1726.79 304.21 C1727.66 304.47 1728.34 304.41 1729.12 303.86 C1729.89 303.32 1730.57 302.02 1731.44 300.95 C1732.32 299.89 1733.38 298.24 1734.35 297.46 C1735.32 296.69 1736.39 296.49 1737.26 296.30 C1738.14 296.10 1738.91 295.81 1739.59 296.30 C1740.27 296.78 1740.66 298.34 1741.34 299.21 C1742.02 300.08 1742.79 300.95 1743.67 301.54 C1744.54 302.12 1745.70 302.41 1746.58 302.70 C1747.45 302.99 1748.13 302.95 1748.91 303.28 C1749.68 303.61 1750.55 305.07 1751.23 304.68 C1751.91 304.29 1752.40 301.81 1752.98 300.95 C1753.56 300.10 1754.05 299.71 1754.73 299.56 C1755.41 299.40 1756.38 299.11 1757.05 300.02 C1757.73 300.94 1758.22 303.42 1758.80 305.03 C1759.38 306.64 1760.26 308.91 1760.55 309.69" fill="none" stroke="#255232" stroke-width="1.85" stroke-linecap="round" stroke-linejoin="round"/>
<path d="M1763.22 309.34 C1763.65 308.81 1765.01 306.19 1765.79 306.19 C1766.56 306.19 1767.53 308.81 1767.88 309.34" fill="none" stroke="#255232" stroke-width="1.85" stroke-linecap="round" stroke-linejoin="round"/>
<path d="M1772.77 309.69 C1773.06 308.81 1773.93 306.00 1774.52 304.45 C1775.10 302.89 1775.58 301.34 1776.26 300.37 C1776.94 299.40 1777.82 298.43 1778.59 298.63 C1779.37 298.82 1780.05 300.66 1780.92 301.54 C1781.79 302.41 1782.86 303.28 1783.83 303.86 C1784.80 304.45 1785.87 304.45 1786.74 305.03 C1787.61 305.61 1788.39 306.68 1789.07 307.36 C1789.75 308.04 1790.52 308.81 1790.81 309.10" fill="none" stroke="#255232" stroke-width="1.85" stroke-linecap="round" stroke-linejoin="round"/>
<path d="M1563.57 290.00 C1564.05 290.30 1565.54 291.90 1566.43 291.79 C1567.32 291.67 1567.92 289.46 1568.93 289.29 C1569.94 289.11 1571.31 290.60 1572.50 290.71 C1573.69 290.83 1574.58 290.54 1576.07 290.00 C1577.56 289.46 1579.82 288.39 1581.43 287.50 C1583.04 286.61 1584.40 285.36 1585.71 284.64 C1587.02 283.93 1587.92 283.21 1589.29 283.21 C1590.65 283.21 1592.26 284.23 1593.93 284.64 C1595.60 285.06 1597.50 285.24 1599.29 285.71 C1601.07 286.19 1602.86 286.90 1604.64 287.50 C1606.43 288.10 1608.21 288.87 1610.00 289.29 C1611.79 289.70 1613.57 290.30 1615.36 290.00 C1617.14 289.70 1618.93 288.21 1620.71 287.50 C1622.50 286.79 1624.58 286.19 1626.07 285.71 C1627.56 285.24 1628.45 284.64 1629.64 284.64 C1630.83 284.64 1632.02 286.13 1633.21 285.71 C1634.40 285.30 1635.60 283.33 1636.79 282.14 C1637.98 280.95 1639.17 279.76 1640.36 278.57 C1641.55 277.38 1642.74 275.77 1643.93 275.00 C1645.12 274.23 1646.31 274.70 1647.50 273.93 C1648.69 273.15 1649.88 271.67 1651.07 270.36 C1652.26 269.05 1653.45 268.27 1654.64 266.07 C1655.83 263.87 1657.02 260.42 1658.21 257.14 C1659.40 253.87 1660.60 250.60 1661.79 246.43 C1662.98 242.26 1664.17 237.50 1665.36 232.14 C1666.55 226.79 1667.74 220.83 1668.93 214.29 C1670.12 207.74 1672.20 194.64 1672.50 192.86 C1672.80 191.07 1670.42 205.36 1670.71 203.57 C1671.01 201.79 1673.21 188.10 1674.29 182.14 C1675.36 176.19 1676.25 171.55 1677.14 167.86 C1678.04 164.17 1678.93 161.49 1679.64 160.00 C1680.36 158.51 1680.83 158.21 1681.43 158.93 C1682.02 159.64 1682.50 159.82 1683.21 164.29 C1683.93 168.75 1684.82 177.38 1685.71 185.71 C1686.61 194.05 1687.62 205.36 1688.57 214.29 C1689.52 223.21 1690.48 231.55 1691.43 239.29 C1692.38 247.02 1693.27 254.17 1694.29 260.71 C1695.30 267.26 1695.73 273.51 1697.50 278.57 C1699.27 283.63 1703.22 288.40 1704.90 291.06 C1706.58 293.72 1706.55 293.68 1707.58 294.55 C1708.61 295.42 1709.91 295.91 1711.07 296.30 C1712.24 296.69 1713.21 296.84 1714.56 296.88 C1715.92 296.92 1717.67 296.43 1719.22 296.53 C1720.77 296.63 1722.32 297.15 1723.88 297.46 C1725.43 297.77 1726.98 298.16 1728.53 298.39 C1730.09 298.63 1731.64 298.92 1733.19 298.86 C1734.74 298.80 1736.49 298.32 1737.85 298.04 C1739.20 297.77 1740.17 297.29 1741.34 297.23 C1742.50 297.17 1743.67 297.46 1744.83 297.69 C1746.00 297.93 1747.35 298.43 1748.32 298.63 C1749.29 298.82 1749.68 299.05 1750.65 298.86 C1751.62 298.67 1752.98 297.89 1754.14 297.46 C1755.31 297.04 1756.47 296.69 1757.64 296.30 C1758.80 295.91 1760.16 295.37 1761.13 295.13 C1762.10 294.90 1762.49 294.86 1763.46 294.90 C1764.43 294.94 1765.79 294.94 1766.95 295.37 C1768.11 295.79 1769.28 296.92 1770.44 297.46 C1771.61 298.01 1772.77 298.72 1773.93 298.63 C1775.10 298.53 1776.46 297.37 1777.43 296.88 C1778.40 296.40 1778.98 295.81 1779.76 295.72 C1780.53 295.62 1781.11 295.81 1782.08 296.30 C1783.05 296.78 1784.41 297.95 1785.58 298.63 C1786.74 299.31 1787.90 299.98 1789.07 300.37 C1790.23 300.76 1791.98 300.86 1792.56 300.95" fill="none" stroke="#111" stroke-width="2.3" stroke-linecap="round" stroke-linejoin="round"/>
<path d="M1562.86 134.64 C1563.10 135.71 1563.57 139.23 1564.29 141.07 C1565.00 142.92 1566.07 145.71 1567.14 145.71 C1568.21 145.71 1569.52 143.93 1570.71 141.07 C1571.90 138.21 1573.10 133.04 1574.29 128.57 C1575.48 124.11 1576.67 118.15 1577.86 114.29 C1579.05 110.42 1580.42 107.14 1581.43 105.36 C1582.44 103.57 1583.04 102.68 1583.93 103.57 C1584.82 104.46 1585.89 106.55 1586.79 110.71 C1587.68 114.88 1588.39 120.83 1589.29 128.57 C1590.18 136.31 1591.19 147.02 1592.14 157.14 C1593.10 167.26 1594.05 179.76 1595.00 189.29 C1595.95 198.81 1596.85 206.55 1597.86 214.29 C1598.87 222.02 1599.94 230.36 1601.07 235.71 C1602.20 241.07 1603.15 243.15 1604.64 246.43 C1606.13 249.70 1608.21 253.27 1610.00 255.36 C1611.79 257.44 1613.57 258.15 1615.36 258.93 C1617.14 259.70 1618.93 259.58 1620.71 260.00 C1622.50 260.42 1624.40 261.01 1626.07 261.43 C1627.74 261.85 1629.23 263.33 1630.71 262.50 C1632.20 261.67 1633.81 257.80 1635.00 256.43 C1636.19 255.06 1636.79 255.36 1637.86 254.29 C1638.93 253.21 1640.24 251.43 1641.43 250.00 C1642.62 248.57 1643.81 246.31 1645.00 245.71 C1646.19 245.12 1647.38 246.43 1648.57 246.43 C1649.76 246.43 1650.95 247.20 1652.14 245.71 C1653.33 244.23 1654.40 240.36 1655.71 237.50 C1657.02 234.64 1658.57 230.95 1660.00 228.57 C1661.43 226.19 1662.87 227.98 1664.29 223.21 C1665.70 218.45 1667.18 207.20 1668.50 200.00 C1669.82 192.80 1670.97 186.67 1672.20 180.00 C1673.43 173.33 1674.70 166.67 1675.90 160.00 C1677.10 153.33 1678.35 146.67 1679.40 140.00 C1680.45 133.33 1681.47 125.33 1682.20 120.00 C1682.93 114.67 1683.35 110.73 1683.80 108.00 C1684.25 105.27 1684.53 103.60 1684.90 103.60 C1685.27 103.60 1685.55 105.27 1686.00 108.00 C1686.45 110.73 1686.90 114.67 1687.60 120.00 C1688.30 125.33 1689.23 130.00 1690.20 140.00 C1691.17 150.00 1692.33 166.67 1693.40 180.00 C1694.47 193.33 1695.82 209.80 1696.60 220.00 C1697.38 230.20 1697.40 234.15 1698.10 241.20 C1698.80 248.25 1700.05 256.83 1700.80 262.30 C1701.55 267.77 1702.15 271.05 1702.60 274.00 C1703.05 276.95 1702.97 278.22 1703.50 280.00 C1704.04 281.78 1705.06 283.45 1705.83 284.66 C1706.61 285.86 1707.29 286.73 1708.16 287.22 C1709.03 287.70 1710.20 287.70 1711.07 287.57 C1711.94 287.43 1712.62 286.73 1713.40 286.40 C1714.18 286.07 1714.95 285.30 1715.73 285.59 C1716.50 285.88 1717.28 286.95 1718.06 288.15 C1718.83 289.35 1719.61 291.35 1720.38 292.81 C1721.16 294.26 1721.94 296.07 1722.71 296.88 C1723.49 297.69 1724.26 297.99 1725.04 297.69 C1725.82 297.40 1726.59 296.34 1727.37 295.13 C1728.15 293.93 1729.02 291.49 1729.70 290.48 C1730.38 289.47 1730.76 288.98 1731.44 289.08 C1732.12 289.18 1733.00 291.02 1733.77 291.06 C1734.55 291.10 1735.32 290.28 1736.10 289.31 C1736.88 288.34 1737.65 286.50 1738.43 285.24 C1739.20 283.98 1740.08 282.39 1740.76 281.75 C1741.44 281.11 1741.82 281.11 1742.50 281.40 C1743.18 281.69 1743.96 282.76 1744.83 283.49 C1745.70 284.23 1746.77 284.95 1747.74 285.82 C1748.71 286.69 1749.68 287.92 1750.65 288.73 C1751.62 289.55 1752.69 290.81 1753.56 290.71 C1754.44 290.61 1755.11 289.12 1755.89 288.15 C1756.67 287.18 1757.54 285.47 1758.22 284.89 C1758.90 284.31 1759.29 284.40 1759.97 284.66 C1760.64 284.91 1761.52 285.53 1762.29 286.40 C1763.07 287.28 1763.85 288.63 1764.62 289.90 C1765.40 291.16 1766.17 292.51 1766.95 293.97 C1767.73 295.42 1768.60 297.62 1769.28 298.63 C1769.96 299.64 1770.35 300.41 1771.02 300.02 C1771.70 299.64 1772.67 297.99 1773.35 296.30 C1774.03 294.61 1774.52 291.29 1775.10 289.90 C1775.68 288.50 1776.17 288.01 1776.85 287.92 C1777.52 287.82 1778.40 288.69 1779.17 289.31 C1779.95 289.93 1780.82 291.21 1781.50 291.64 C1782.18 292.07 1782.57 291.39 1783.25 291.87 C1783.93 292.36 1784.70 293.33 1785.58 294.55 C1786.45 295.77 1787.61 297.95 1788.49 299.21 C1789.36 300.47 1790.04 301.25 1790.81 302.12 C1791.59 302.99 1792.76 304.06 1793.14 304.45" fill="none" stroke="#872a30" stroke-width="1.85" stroke-linecap="round" stroke-linejoin="round"/>
</g>
<line x1="1715.70" y1="68.10" x2="1731.70" y2="68.10" stroke="#872a30" stroke-width="2.0"/>
<line x1="1715.70" y1="97.40" x2="1731.70" y2="97.40" stroke="#255232" stroke-width="2.0"/>
<line x1="1715.70" y1="126.40" x2="1731.70" y2="126.40" stroke="#111" stroke-width="2.2"/>
<text transform="translate(1740.95 77.70) scale(0.9749 1.0)">GC</text>
<text transform="translate(1741.03 106.80) scale(0.9172 1.0)">Gem</text>
<text transform="translate(1740.95 135.80) scale(0.9785 1.0)">Ce6</text>
<text transform="translate(1493.70 79.40) scale(1.0000 1.0)">2</text>
<text transform="translate(1493.26 198.50) scale(1.0000 1.0)">1</text>
<text transform="translate(1493.75 318.50) scale(1.0000 1.0)">0</text>
<text transform="translate(1501.36 351.80) scale(0.9881 1.0)">200</text>
<text transform="translate(1588.32 351.80) scale(0.9717 1.0)">300</text>
<text transform="translate(1664.75 351.80) scale(0.9818 1.0)">400</text>
<text transform="translate(1740.94 351.80) scale(0.9564 1.0)">500</text>
<text transform="translate(1805.70 351.80) scale(0.9573 1.0)">600</text>
<text transform="translate(1586.70 386.80) scale(0.9332 1.0)">Wavelength/nm</text>
<text transform="translate(1478.80 269.53) rotate(-90) scale(0.9748 1.0)">Absorbance</text>
<path d="M152.10 425.00 L142.10 425.00 L142.10 667.80 L445.60 667.80 L445.60 658.30" fill="none" stroke="#111" stroke-width="2.2" stroke-linejoin="miter"/>
<line x1="142.10" y1="485.70" x2="152.10" y2="485.70" stroke="#111" stroke-width="2.0"/>
<line x1="142.10" y1="546.40" x2="152.10" y2="546.40" stroke="#111" stroke-width="2.0"/>
<line x1="142.10" y1="607.00" x2="152.10" y2="607.00" stroke="#111" stroke-width="2.0"/>
<line x1="243.00" y1="667.80" x2="243.00" y2="658.30" stroke="#111" stroke-width="2.0"/>
<line x1="344.00" y1="667.80" x2="344.00" y2="658.30" stroke="#111" stroke-width="2.0"/>
<path d="M141.70 666.70 C144.75 666.58 155.28 666.28 160.00 666.00 C164.72 665.72 166.92 665.42 170.00 665.00 C173.08 664.58 175.68 664.17 178.50 663.50 C181.32 662.83 184.08 662.27 186.90 661.00 C189.72 659.73 192.57 658.17 195.40 655.90 C198.23 653.63 201.50 650.08 203.90 647.40 C206.30 644.72 207.97 642.33 209.80 639.80 C211.63 637.27 213.20 634.73 214.90 632.20 C216.60 629.67 218.32 627.15 220.00 624.60 C221.68 622.05 223.32 619.45 225.00 616.90 C226.68 614.35 228.27 612.05 230.10 609.30 C231.93 606.55 234.02 603.17 236.00 600.40 C237.98 597.63 240.33 594.60 242.00 592.70 C243.67 590.80 244.60 589.92 246.00 589.00 C247.40 588.08 248.93 587.20 250.40 587.20 C251.87 587.20 253.38 588.08 254.80 589.00 C256.22 589.92 257.28 590.80 258.90 592.70 C260.52 594.60 262.95 598.05 264.50 600.40 C266.05 602.75 266.87 604.62 268.20 606.80 C269.53 608.98 271.08 611.25 272.50 613.50 C273.92 615.75 275.15 618.03 276.70 620.30 C278.25 622.57 279.83 624.83 281.80 627.10 C283.77 629.37 286.25 632.20 288.50 633.90 C290.75 635.60 293.03 636.43 295.30 637.30 C297.57 638.17 299.70 638.67 302.10 639.10 C304.50 639.53 307.50 639.72 309.70 639.90 C311.90 640.08 313.48 640.23 315.30 640.20 C317.12 640.17 317.95 640.08 320.60 639.70 C323.25 639.32 327.68 638.55 331.20 637.90 C334.72 637.25 338.18 636.38 341.70 635.80 C345.22 635.22 349.12 634.70 352.30 634.40 C355.48 634.10 357.27 633.63 360.80 634.00 C364.33 634.37 369.62 635.40 373.50 636.60 C377.38 637.80 380.57 639.63 384.10 641.20 C387.63 642.77 391.18 644.47 394.70 646.00 C398.22 647.53 401.68 649.07 405.20 650.40 C408.72 651.73 412.27 652.90 415.80 654.00 C419.33 655.10 422.87 656.17 426.40 657.00 C429.93 657.83 433.65 658.48 437.00 659.00 C440.35 659.52 444.92 659.92 446.50 660.10" fill="none" stroke="#872a30" stroke-width="2.0" stroke-linecap="round" stroke-linejoin="round"/>
<path d="M141.00 665.20 C143.47 665.08 151.12 664.87 155.80 664.50 C160.48 664.13 165.43 663.70 169.10 663.00 C172.77 662.30 174.95 661.38 177.80 660.30 C180.65 659.22 183.67 658.25 186.20 656.50 C188.73 654.75 191.17 652.20 193.00 649.80 C194.83 647.40 195.93 644.78 197.20 642.10 C198.47 639.42 199.60 636.52 200.60 633.70 C201.60 630.88 202.35 628.03 203.20 625.20 C204.05 622.37 204.95 619.52 205.70 616.70 C206.45 613.88 207.02 611.12 207.70 608.30 C208.38 605.48 209.00 603.42 209.80 599.80 C210.60 596.18 211.48 591.62 212.50 586.60 C213.52 581.58 214.77 575.35 215.90 569.70 C217.03 564.05 218.30 558.35 219.30 552.70 C220.30 547.05 221.03 540.87 221.90 535.80 C222.77 530.73 223.63 526.87 224.50 522.30 C225.37 517.73 226.25 513.05 227.10 508.40 C227.95 503.75 228.75 499.07 229.60 494.40 C230.45 489.73 231.55 483.12 232.20 480.40 C232.85 477.68 232.87 479.55 233.50 478.10 C234.13 476.65 235.15 473.28 236.00 471.70 C236.85 470.12 237.65 469.27 238.60 468.60 C239.55 467.93 240.65 467.50 241.70 467.70 C242.75 467.90 243.83 468.48 244.90 469.80 C245.97 471.12 247.03 473.37 248.10 475.60 C249.17 477.83 250.25 480.45 251.30 483.20 C252.35 485.95 253.35 488.93 254.40 492.10 C255.45 495.27 256.53 498.82 257.60 502.20 C258.67 505.58 259.73 508.80 260.80 512.40 C261.87 516.00 262.90 519.87 264.00 523.80 C265.10 527.73 266.27 531.85 267.40 536.00 C268.53 540.15 269.53 544.47 270.80 548.70 C272.07 552.93 273.60 557.45 275.00 561.40 C276.40 565.35 277.78 568.87 279.20 572.40 C280.62 575.93 282.08 579.35 283.50 582.60 C284.92 585.85 286.40 589.00 287.70 591.90 C289.00 594.80 289.75 597.23 291.30 600.00 C292.85 602.77 294.63 605.68 297.00 608.50 C299.37 611.32 302.68 614.50 305.50 616.90 C308.32 619.30 311.08 621.20 313.90 622.90 C316.72 624.60 319.52 625.88 322.40 627.10 C325.28 628.32 327.98 629.43 331.20 630.20 C334.42 630.97 338.18 631.23 341.70 631.70 C345.22 632.17 348.77 632.38 352.30 633.00 C355.83 633.62 359.37 634.50 362.90 635.40 C366.43 636.30 369.97 637.15 373.50 638.40 C377.03 639.65 380.57 641.38 384.10 642.90 C387.63 644.42 391.18 646.10 394.70 647.50 C398.22 648.90 401.68 650.15 405.20 651.30 C408.72 652.45 412.27 653.43 415.80 654.40 C419.33 655.37 422.87 656.33 426.40 657.10 C429.93 657.87 433.65 658.50 437.00 659.00 C440.35 659.50 444.92 659.92 446.50 660.10" fill="none" stroke="#2f3468" stroke-width="2.0" stroke-linecap="round" stroke-linejoin="round"/>
<path d="M141.70 665.40 C144.17 665.28 151.82 665.07 156.50 664.70 C161.18 664.33 166.13 663.90 169.80 663.20 C173.47 662.50 175.65 661.58 178.50 660.50 C181.35 659.42 184.37 658.45 186.90 656.70 C189.43 654.95 191.87 652.40 193.70 650.00 C195.53 647.60 196.63 644.98 197.90 642.30 C199.17 639.62 200.30 636.72 201.30 633.90 C202.30 631.08 203.05 628.23 203.90 625.40 C204.75 622.57 205.65 619.72 206.40 616.90 C207.15 614.08 207.72 611.32 208.40 608.50 C209.08 605.68 209.70 603.62 210.50 600.00 C211.30 596.38 212.18 591.82 213.20 586.80 C214.22 581.78 215.47 575.55 216.60 569.90 C217.73 564.25 219.00 558.55 220.00 552.90 C221.00 547.25 221.73 541.07 222.60 536.00 C223.47 530.93 224.33 527.07 225.20 522.50 C226.07 517.93 226.95 513.25 227.80 508.60 C228.65 503.95 229.45 499.27 230.30 494.60 C231.15 489.93 232.05 484.83 232.90 480.60 C233.75 476.37 234.57 472.47 235.40 469.20 C236.23 465.93 237.05 463.33 237.90 461.00 C238.75 458.67 239.43 456.58 240.50 455.20 C241.57 453.82 243.03 452.70 244.30 452.70 C245.57 452.70 246.93 453.82 248.10 455.20 C249.27 456.58 250.25 458.67 251.30 461.00 C252.35 463.33 253.35 466.13 254.40 469.20 C255.45 472.27 256.53 475.80 257.60 479.40 C258.67 483.00 259.73 487.00 260.80 490.80 C261.87 494.60 262.95 498.18 264.00 502.20 C265.05 506.22 266.05 510.88 267.10 514.90 C268.15 518.92 269.37 522.78 270.30 526.30 C271.23 529.82 271.78 532.27 272.70 536.00 C273.62 539.73 274.57 544.47 275.80 548.70 C277.03 552.93 278.68 557.45 280.10 561.40 C281.52 565.35 282.90 568.87 284.30 572.40 C285.70 575.93 287.08 579.35 288.50 582.60 C289.92 585.85 291.45 589.00 292.80 591.90 C294.15 594.80 295.05 597.38 296.60 600.00 C298.15 602.62 299.92 605.00 302.10 607.60 C304.28 610.20 306.62 612.98 309.70 615.60 C312.78 618.22 317.02 621.28 320.60 623.30 C324.18 625.32 327.68 626.55 331.20 627.70 C334.72 628.85 338.18 629.53 341.70 630.20 C345.22 630.87 348.77 631.05 352.30 631.70 C355.83 632.35 359.37 633.22 362.90 634.10 C366.43 634.98 369.97 635.72 373.50 637.00 C377.03 638.28 380.57 640.20 384.10 641.80 C387.63 643.40 391.18 645.10 394.70 646.60 C398.22 648.10 401.68 649.53 405.20 650.80 C408.72 652.07 412.27 653.15 415.80 654.20 C419.33 655.25 422.87 656.30 426.40 657.10 C429.93 657.90 433.65 658.50 437.00 659.00 C440.35 659.50 444.92 659.92 446.50 660.10" fill="none" stroke="#111" stroke-width="2.4" stroke-linecap="round" stroke-linejoin="round"/>
<line x1="277.30" y1="463.20" x2="302.70" y2="463.20" stroke="#111" stroke-width="2.4"/>
<line x1="278.20" y1="491.80" x2="304.00" y2="491.80" stroke="#872a30" stroke-width="2.0"/>
<line x1="279.20" y1="519.00" x2="304.90" y2="519.00" stroke="#2f3468" stroke-width="2.0"/>
<text transform="translate(309.28 470.30) scale(0.9542 1.0)">Ce6</text>
<text transform="translate(310.44 497.70) scale(0.9821 1.0)">GC</text>
<text transform="translate(310.43 525.10) scale(0.9890 1.0)">GC (pH 5.0)</text>
<text transform="translate(55.75 435.80) scale(0.9852 1.0)">4 000</text>
<text transform="translate(56.01 496.60) scale(0.9815 1.0)">3 000</text>
<text transform="translate(55.45 557.30) scale(0.9893 1.0)">2 000</text>
<text transform="translate(57.00 618.00) scale(0.9647 1.0)">1 000</text>
<text transform="translate(110.60 677.80) scale(1.0000 1.0)">0</text>
<text transform="translate(120.37 705.20) scale(0.9749 1.0)">600</text>
<text transform="translate(221.57 705.20) scale(0.9749 1.0)">650</text>
<text transform="translate(324.52 705.20) scale(0.9526 1.0)">700</text>
<text transform="translate(425.33 705.20) scale(0.9481 1.0)">750</text>
<text transform="translate(201.00 743.30) scale(0.9386 1.0)">Wavelength/nm</text>
<text transform="translate(38.20 712.46) rotate(-90) scale(0.9752 1.0)">Fluorescence intensity/%</text>
<path d="M613.00 426.90 L603.00 426.90 L603.00 667.20 L907.60 667.20 L907.60 657.70" fill="none" stroke="#111" stroke-width="2.2" stroke-linejoin="miter"/>
<line x1="603.00" y1="486.70" x2="613.00" y2="486.70" stroke="#111" stroke-width="2.0"/>
<line x1="603.00" y1="547.20" x2="613.00" y2="547.20" stroke="#111" stroke-width="2.0"/>
<line x1="603.00" y1="607.40" x2="613.00" y2="607.40" stroke="#111" stroke-width="2.0"/>
<line x1="679.30" y1="667.20" x2="679.30" y2="657.70" stroke="#111" stroke-width="2.0"/>
<line x1="755.20" y1="667.20" x2="755.20" y2="657.70" stroke="#111" stroke-width="2.0"/>
<line x1="831.10" y1="667.20" x2="831.10" y2="657.70" stroke="#111" stroke-width="2.0"/>
<path d="M600.29 548.04 C600.73 549.28 602.05 553.21 602.94 555.45 C603.82 557.69 604.61 559.45 605.58 561.48 C606.55 563.51 607.70 565.75 608.76 567.62 C609.81 569.49 610.70 570.97 611.93 572.70 C613.17 574.43 614.58 576.24 616.16 577.99 C617.75 579.74 619.69 581.55 621.46 583.17 C623.22 584.80 624.98 586.35 626.75 587.72 C628.51 589.10 630.27 590.51 632.04 591.43 C633.80 592.35 635.56 592.84 637.33 593.23 C639.09 593.62 640.86 593.62 642.62 593.76 C644.38 593.90 646.15 593.88 647.91 594.07 C649.67 594.27 651.44 594.78 653.20 594.92 C654.96 595.06 656.73 595.24 658.49 594.92 C660.26 594.60 662.02 593.72 663.78 593.02 C665.55 592.31 667.31 591.39 669.07 590.69 C670.84 589.98 672.60 589.72 674.37 588.78 C676.13 587.85 677.89 586.14 679.66 585.08 C681.42 584.02 683.18 583.09 684.95 582.43 C686.71 581.78 688.47 581.52 690.24 581.16 C692.00 580.81 693.77 580.72 695.53 580.32 C697.29 579.91 699.06 579.52 700.82 578.73 C702.58 577.94 704.35 576.38 706.11 575.56 C707.87 574.73 709.64 573.99 711.40 573.76 C713.17 573.53 714.93 573.97 716.69 574.18 C718.46 574.39 720.22 574.62 721.98 575.03 C723.75 575.43 725.51 576.08 727.28 576.61 C729.04 577.14 730.80 577.67 732.57 578.20 C734.33 578.73 736.09 579.17 737.86 579.79 C739.62 580.41 741.38 581.32 743.15 581.90 C744.91 582.49 746.46 583.10 748.44 583.28 C750.41 583.46 753.60 583.12 755.00 582.96 C756.40 582.81 755.67 582.70 756.84 582.37 C758.01 582.04 760.28 581.22 762.00 580.99 C763.72 580.76 765.44 580.76 767.16 580.99 C768.88 581.22 770.60 581.79 772.32 582.37 C774.04 582.94 775.76 583.51 777.48 584.43 C779.20 585.35 780.92 586.61 782.64 587.87 C784.36 589.13 785.75 590.63 787.80 592.00 C789.85 593.36 792.50 593.97 794.92 596.06 C797.34 598.15 800.04 601.88 802.33 604.52 C804.62 607.17 806.56 609.64 808.68 611.93 C810.79 614.22 812.91 616.25 815.03 618.28 C817.14 620.31 819.26 622.25 821.38 624.10 C823.49 625.95 825.78 627.80 827.72 629.39 C829.66 630.98 831.52 632.30 833.02 633.62 C834.51 634.95 835.31 635.65 836.72 637.33 C838.13 639.00 839.89 641.47 841.48 643.68 C843.07 645.88 844.74 648.17 846.24 650.56 C847.74 652.94 849.24 655.67 850.48 657.96 C851.71 660.26 852.82 662.64 853.65 664.31 C854.48 665.99 855.15 667.40 855.45 668.02" fill="none" stroke="#111" stroke-width="2.2" stroke-linecap="round" stroke-linejoin="round"/>
<path d="M600.29 544.87 C600.73 545.84 602.05 548.84 602.94 550.69 C603.82 552.54 604.61 554.13 605.58 555.98 C606.55 557.83 607.70 560.12 608.76 561.80 C609.81 563.47 610.70 564.57 611.93 566.03 C613.17 567.50 614.58 569.08 616.16 570.58 C617.75 572.08 619.69 573.79 621.46 575.03 C623.22 576.26 624.98 577.20 626.75 577.99 C628.51 578.78 630.27 579.31 632.04 579.79 C633.80 580.26 635.56 580.72 637.33 580.85 C639.09 580.97 640.86 580.76 642.62 580.53 C644.38 580.30 646.15 579.82 647.91 579.47 C649.67 579.12 651.44 578.71 653.20 578.41 C654.96 578.11 656.73 578.06 658.49 577.67 C660.26 577.28 662.02 576.61 663.78 576.08 C665.55 575.56 667.31 575.03 669.07 574.50 C670.84 573.97 672.60 573.39 674.37 572.91 C676.13 572.43 677.89 572.17 679.66 571.64 C681.42 571.11 683.18 570.26 684.95 569.74 C686.71 569.21 688.47 568.82 690.24 568.47 C692.00 568.11 693.77 568.11 695.53 567.62 C697.29 567.13 699.06 566.56 700.82 565.50 C702.58 564.44 704.35 562.77 706.11 561.27 C707.87 559.77 709.64 558.18 711.40 556.51 C713.17 554.83 714.93 553.25 716.69 551.22 C718.46 549.19 720.22 547.07 721.98 544.34 C723.75 541.60 725.69 537.64 727.28 534.81 C728.86 531.99 730.02 530.78 731.51 527.41 C733.00 524.04 734.56 518.74 736.20 514.60 C737.84 510.46 739.64 507.15 741.36 502.56 C743.08 497.97 744.80 492.53 746.52 487.08 C748.24 481.63 750.25 474.75 751.68 469.88 C753.11 465.01 753.97 460.82 755.12 457.84 C756.27 454.86 757.58 453.02 758.56 451.99 C759.53 450.96 760.11 451.25 760.97 451.65 C761.83 452.05 762.69 452.22 763.72 454.40 C764.75 456.58 766.01 460.42 767.16 464.72 C768.31 469.02 769.45 474.47 770.60 480.20 C771.75 485.93 772.89 492.53 774.04 499.12 C775.19 505.71 776.33 513.17 777.48 519.76 C778.63 526.35 779.77 532.66 780.92 538.68 C782.07 544.70 782.93 549.86 784.36 555.88 C785.79 561.90 787.80 568.78 789.52 574.80 C791.24 580.82 793.34 588.63 794.68 592.00 C796.02 595.37 796.47 593.44 797.57 595.00 C798.66 596.56 799.95 598.70 801.27 601.35 C802.59 603.99 804.09 608.05 805.50 610.87 C806.91 613.69 807.97 615.81 809.74 618.28 C811.50 620.75 813.97 623.48 816.08 625.69 C818.20 627.89 820.32 629.66 822.43 631.51 C824.55 633.36 826.84 635.12 828.78 636.80 C830.72 638.47 832.40 639.89 834.07 641.56 C835.75 643.24 837.25 644.91 838.84 646.85 C840.42 648.79 842.10 651.08 843.60 653.20 C845.10 655.32 846.60 657.61 847.83 659.55 C849.07 661.49 850.12 663.34 851.01 664.84 C851.89 666.34 852.77 667.93 853.12 668.54" fill="none" stroke="#255232" stroke-width="1.9" stroke-linecap="round" stroke-linejoin="round"/>
<path d="M600.29 548.04 C600.73 549.19 602.05 552.80 602.94 554.92 C603.82 557.04 604.61 558.80 605.58 560.74 C606.55 562.68 607.70 564.74 608.76 566.56 C609.81 568.38 610.70 569.96 611.93 571.64 C613.17 573.32 614.58 574.99 616.16 576.61 C617.75 578.24 619.69 579.96 621.46 581.38 C623.22 582.79 624.98 584.02 626.75 585.08 C628.51 586.14 630.27 587.02 632.04 587.72 C633.80 588.43 635.56 588.78 637.33 589.31 C639.09 589.84 640.86 590.46 642.62 590.90 C644.38 591.34 646.15 591.69 647.91 591.96 C649.67 592.22 651.44 592.66 653.20 592.49 C654.96 592.31 656.90 591.43 658.49 590.90 C660.08 590.37 661.31 589.66 662.72 589.31 C664.14 588.96 665.55 588.78 666.96 588.78 C668.37 588.78 669.78 589.40 671.19 589.31 C672.60 589.22 674.01 588.78 675.42 588.25 C676.83 587.72 678.07 586.75 679.66 586.14 C681.24 585.52 683.18 584.85 684.95 584.55 C686.71 584.25 688.47 584.37 690.24 584.34 C692.00 584.30 693.77 584.66 695.53 584.34 C697.29 584.02 699.06 583.19 700.82 582.43 C702.58 581.68 704.35 580.49 706.11 579.79 C707.87 579.08 709.64 578.73 711.40 578.20 C713.17 577.67 714.93 577.14 716.69 576.61 C718.46 576.08 720.22 575.29 721.98 575.03 C723.75 574.76 725.51 574.85 727.28 575.03 C729.04 575.20 730.80 575.82 732.57 576.08 C734.33 576.35 736.09 576.70 737.86 576.61 C739.62 576.53 741.38 576.17 743.15 575.56 C744.91 574.94 746.46 573.97 748.44 572.91 C750.41 571.85 753.03 570.04 755.00 569.21 C756.97 568.37 758.54 568.31 760.28 567.92 C762.02 567.53 763.72 566.77 765.44 566.89 C767.16 567.00 768.88 567.57 770.60 568.61 C772.32 569.64 774.04 571.30 775.76 573.08 C777.48 574.86 779.20 577.09 780.92 579.27 C782.64 581.45 784.10 583.53 786.08 586.15 C788.06 588.77 790.45 592.11 792.80 595.00 C795.16 597.89 797.92 600.64 800.21 603.47 C802.50 606.29 804.44 609.37 806.56 611.93 C808.68 614.49 810.79 616.69 812.91 618.81 C815.03 620.93 817.14 622.78 819.26 624.63 C821.38 626.48 823.49 628.25 825.61 629.92 C827.72 631.60 830.19 633.27 831.96 634.68 C833.72 636.09 834.60 636.71 836.19 638.39 C837.78 640.06 839.81 642.53 841.48 644.74 C843.16 646.94 844.74 649.32 846.24 651.61 C847.74 653.91 849.24 656.29 850.48 658.49 C851.71 660.70 852.86 663.25 853.65 664.84 C854.44 666.43 854.97 667.49 855.24 668.02" fill="none" stroke="#38386c" stroke-width="2.0" stroke-linecap="round" stroke-linejoin="round"/>
<path d="M600.29 535.34 C600.73 536.31 602.05 538.96 602.94 541.16 C603.82 543.37 604.61 546.28 605.58 548.57 C606.55 550.86 607.70 553.07 608.76 554.92 C609.81 556.77 610.70 558.10 611.93 559.68 C613.17 561.27 614.58 562.86 616.16 564.44 C617.75 566.03 619.69 567.80 621.46 569.21 C623.22 570.62 624.98 571.85 626.75 572.91 C628.51 573.97 630.27 574.81 632.04 575.56 C633.80 576.30 635.56 576.83 637.33 577.35 C639.09 577.88 640.86 578.38 642.62 578.73 C644.38 579.08 646.15 579.38 647.91 579.47 C649.67 579.56 651.44 579.65 653.20 579.26 C654.96 578.87 656.73 577.94 658.49 577.14 C660.26 576.35 662.02 575.34 663.78 574.50 C665.55 573.65 667.31 572.95 669.07 572.06 C670.84 571.18 672.60 570.30 674.37 569.21 C676.13 568.11 677.89 566.65 679.66 565.50 C681.42 564.36 683.18 563.25 684.95 562.33 C686.71 561.41 688.47 560.56 690.24 560.00 C692.00 559.44 693.77 559.44 695.53 558.94 C697.29 558.45 699.23 558.15 700.82 557.04 C702.41 555.93 703.64 553.69 705.05 552.28 C706.46 550.86 707.70 549.54 709.29 548.57 C710.87 547.60 712.81 547.04 714.58 546.46 C716.34 545.87 717.93 545.64 719.87 545.08 C721.81 544.51 724.10 543.67 726.22 543.07 C728.33 542.47 730.63 541.98 732.57 541.48 C734.51 540.99 736.09 540.60 737.86 540.11 C739.62 539.61 741.56 539.22 743.15 538.52 C744.74 537.81 745.97 537.20 747.38 535.87 C748.79 534.55 750.34 532.08 751.61 530.58 C752.88 529.08 754.13 527.82 755.00 526.88 C755.87 525.93 755.84 525.59 756.84 524.92 C757.83 524.25 759.53 522.86 760.97 522.86 C762.40 522.86 763.83 523.43 765.44 524.92 C767.04 526.41 768.88 529.22 770.60 531.80 C772.32 534.38 774.04 537.53 775.76 540.40 C777.48 543.27 779.20 545.56 780.92 549.00 C782.64 552.44 784.36 557.03 786.08 561.04 C787.80 565.05 789.52 569.07 791.24 573.08 C792.96 577.09 794.37 581.47 796.40 585.12 C798.42 588.77 801.69 592.29 803.39 595.00 C805.08 597.71 805.15 599.06 806.56 601.35 C807.97 603.64 810.09 606.46 811.85 608.76 C813.62 611.05 815.20 612.99 817.14 615.11 C819.08 617.22 821.55 619.51 823.49 621.46 C825.43 623.40 827.02 625.07 828.78 626.75 C830.55 628.42 832.49 629.83 834.07 631.51 C835.66 633.18 836.72 634.77 838.31 636.80 C839.89 638.83 842.01 641.47 843.60 643.68 C845.19 645.88 846.51 647.73 847.83 650.03 C849.15 652.32 850.48 655.32 851.53 657.43 C852.59 659.55 853.47 660.96 854.18 662.72 C854.89 664.49 855.50 667.13 855.77 668.02" fill="none" stroke="#3b6279" stroke-width="2.0" stroke-linecap="round" stroke-linejoin="round"/>
<line x1="822.80" y1="453.30" x2="844.50" y2="453.30" stroke="#255232" stroke-width="2.3"/>
<line x1="822.80" y1="481.20" x2="844.50" y2="481.20" stroke="#3b6279" stroke-width="2.3"/>
<line x1="822.80" y1="508.80" x2="844.50" y2="508.80" stroke="#38386c" stroke-width="2.3"/>
<line x1="822.80" y1="537.60" x2="844.50" y2="537.60" stroke="#111" stroke-width="2.3"/>
<text transform="translate(873.17 462.70) scale(0.9426 1.0)">0 s</text>
<text transform="translate(857.64 490.60) scale(0.9514 1.0)">10 s</text>
<text transform="translate(857.45 518.60) scale(0.9551 1.0)">30 s</text>
<text transform="translate(857.61 547.10) scale(0.9520 1.0)">60 s</text>
<text transform="translate(573.90 435.40) scale(1.0000 1.0)">7</text>
<text transform="translate(574.41 494.90) scale(1.0000 1.0)">6</text>
<text transform="translate(574.08 555.40) scale(1.0000 1.0)">5</text>
<text transform="translate(574.36 615.40) scale(1.0000 1.0)">4</text>
<text transform="translate(574.24 675.40) scale(1.0000 1.0)">3</text>
<text transform="translate(584.01 705.20) scale(0.9784 1.0)">300</text>
<text transform="translate(660.69 705.20) scale(0.9938 1.0)">350</text>
<text transform="translate(737.36 705.20) scale(0.9732 1.0)">400</text>
<text transform="translate(813.56 705.20) scale(0.9732 1.0)">450</text>
<text transform="translate(889.71 705.20) scale(0.9742 1.0)">500</text>
<text transform="translate(658.10 743.30) scale(0.9366 1.0)">Wavelength/nm</text>
<text transform="translate(525.60 648.96) rotate(-90) scale(0.9764 1.0)">DPBF depletion</text>
<text transform="translate(556.50 617.90) rotate(-90) scale(0.9791 1.0)">absorbance</text>
<path d="M1073.60 427.90 L1063.60 427.90 L1063.60 667.60 L1368.40 667.60 L1368.40 658.10" fill="none" stroke="#111" stroke-width="2.2" stroke-linejoin="miter"/>
<line x1="1063.60" y1="475.60" x2="1073.60" y2="475.60" stroke="#111" stroke-width="2.0"/>
<line x1="1063.60" y1="524.00" x2="1073.60" y2="524.00" stroke="#111" stroke-width="2.0"/>
<line x1="1063.60" y1="571.40" x2="1073.60" y2="571.40" stroke="#111" stroke-width="2.0"/>
<line x1="1063.60" y1="618.90" x2="1073.60" y2="618.90" stroke="#111" stroke-width="2.0"/>
<line x1="1124.50" y1="667.60" x2="1124.50" y2="658.10" stroke="#111" stroke-width="2.0"/>
<line x1="1185.20" y1="667.60" x2="1185.20" y2="658.10" stroke="#111" stroke-width="2.0"/>
<line x1="1246.00" y1="667.60" x2="1246.00" y2="658.10" stroke="#111" stroke-width="2.0"/>
<line x1="1307.10" y1="667.60" x2="1307.10" y2="658.10" stroke="#111" stroke-width="2.0"/>
<path d="M1363.50 477.90 L1373.80 477.90 L1373.80 618.30 L1363.50 618.30" fill="none" stroke="#111" stroke-width="2.0" stroke-linejoin="miter"/>
<path d="M1063.60 667.10 L1075.79 645.20 L1087.98 626.20 L1112.36 604.80 L1136.74 581.40 L1161.12 557.10 L1209.88 529.00 L1356.16 479.30" fill="none" stroke="#2a2a2a" stroke-width="2.0" stroke-linejoin="miter"/>
<path d="M1063.60 667.10 L1075.79 664.00 L1087.98 654.00 L1112.36 642.10 L1136.74 636.70 L1161.12 633.30 L1209.88 627.40 L1356.16 620.70" fill="none" stroke="#2a2a2a" stroke-width="2.0" stroke-linejoin="miter"/>
<rect x="1058.10" y="661.60" width="11" height="11" rx="1" fill="#872a30"/>
<rect x="1070.29" y="639.70" width="11" height="11" rx="1" fill="#872a30"/>
<rect x="1082.48" y="620.70" width="11" height="11" rx="1" fill="#872a30"/>
<line x1="1112.36" y1="595.70" x2="1112.36" y2="613.80" stroke="#872a30" stroke-width="2.0"/>
<line x1="1107.56" y1="595.70" x2="1117.16" y2="595.70" stroke="#872a30" stroke-width="2.0"/>
<line x1="1107.56" y1="613.80" x2="1117.16" y2="613.80" stroke="#872a30" stroke-width="2.0"/>
<rect x="1106.86" y="599.30" width="11" height="11" rx="1" fill="#872a30"/>
<line x1="1136.74" y1="575.50" x2="1136.74" y2="587.40" stroke="#872a30" stroke-width="2.0"/>
<line x1="1131.94" y1="575.50" x2="1141.54" y2="575.50" stroke="#872a30" stroke-width="2.0"/>
<line x1="1131.94" y1="587.40" x2="1141.54" y2="587.40" stroke="#872a30" stroke-width="2.0"/>
<rect x="1131.24" y="575.90" width="11" height="11" rx="1" fill="#872a30"/>
<line x1="1161.12" y1="548.80" x2="1161.12" y2="565.50" stroke="#872a30" stroke-width="2.0"/>
<line x1="1156.32" y1="548.80" x2="1165.92" y2="548.80" stroke="#872a30" stroke-width="2.0"/>
<line x1="1156.32" y1="565.50" x2="1165.92" y2="565.50" stroke="#872a30" stroke-width="2.0"/>
<rect x="1155.62" y="551.60" width="11" height="11" rx="1" fill="#872a30"/>
<line x1="1209.88" y1="516.20" x2="1209.88" y2="541.70" stroke="#872a30" stroke-width="2.0"/>
<line x1="1205.08" y1="516.20" x2="1214.68" y2="516.20" stroke="#872a30" stroke-width="2.0"/>
<line x1="1205.08" y1="541.70" x2="1214.68" y2="541.70" stroke="#872a30" stroke-width="2.0"/>
<rect x="1204.38" y="523.50" width="11" height="11" rx="1" fill="#872a30"/>
<line x1="1356.16" y1="464.30" x2="1356.16" y2="494.50" stroke="#872a30" stroke-width="2.0"/>
<line x1="1351.36" y1="464.30" x2="1360.96" y2="464.30" stroke="#872a30" stroke-width="2.0"/>
<line x1="1351.36" y1="494.50" x2="1360.96" y2="494.50" stroke="#872a30" stroke-width="2.0"/>
<rect x="1350.66" y="473.80" width="11" height="11" rx="1" fill="#872a30"/>
<circle cx="1063.60" cy="667.10" r="5.6" fill="#2f3468"/>
<circle cx="1075.79" cy="664.00" r="5.6" fill="#2f3468"/>
<line x1="1087.98" y1="646.90" x2="1087.98" y2="660.70" stroke="#2f3468" stroke-width="2.0"/>
<line x1="1083.18" y1="646.90" x2="1092.78" y2="646.90" stroke="#2f3468" stroke-width="2.0"/>
<line x1="1083.18" y1="660.70" x2="1092.78" y2="660.70" stroke="#2f3468" stroke-width="2.0"/>
<circle cx="1087.98" cy="654.00" r="5.6" fill="#2f3468"/>
<line x1="1112.36" y1="638.00" x2="1112.36" y2="646.00" stroke="#2f3468" stroke-width="2.0"/>
<line x1="1107.56" y1="638.00" x2="1117.16" y2="638.00" stroke="#2f3468" stroke-width="2.0"/>
<line x1="1107.56" y1="646.00" x2="1117.16" y2="646.00" stroke="#2f3468" stroke-width="2.0"/>
<circle cx="1112.36" cy="642.10" r="5.6" fill="#2f3468"/>
<line x1="1136.74" y1="627.40" x2="1136.74" y2="645.70" stroke="#2f3468" stroke-width="2.0"/>
<line x1="1131.94" y1="627.40" x2="1141.54" y2="627.40" stroke="#2f3468" stroke-width="2.0"/>
<line x1="1131.94" y1="645.70" x2="1141.54" y2="645.70" stroke="#2f3468" stroke-width="2.0"/>
<circle cx="1136.74" cy="636.70" r="5.6" fill="#2f3468"/>
<line x1="1161.12" y1="625.00" x2="1161.12" y2="641.70" stroke="#2f3468" stroke-width="2.0"/>
<line x1="1156.32" y1="625.00" x2="1165.92" y2="625.00" stroke="#2f3468" stroke-width="2.0"/>
<line x1="1156.32" y1="641.70" x2="1165.92" y2="641.70" stroke="#2f3468" stroke-width="2.0"/>
<circle cx="1161.12" cy="633.30" r="5.6" fill="#2f3468"/>
<line x1="1209.88" y1="621.40" x2="1209.88" y2="633.30" stroke="#2f3468" stroke-width="2.0"/>
<line x1="1205.08" y1="621.40" x2="1214.68" y2="621.40" stroke="#2f3468" stroke-width="2.0"/>
<line x1="1205.08" y1="633.30" x2="1214.68" y2="633.30" stroke="#2f3468" stroke-width="2.0"/>
<circle cx="1209.88" cy="627.40" r="5.6" fill="#2f3468"/>
<line x1="1356.16" y1="611.90" x2="1356.16" y2="629.00" stroke="#2f3468" stroke-width="2.0"/>
<line x1="1351.36" y1="611.90" x2="1360.96" y2="611.90" stroke="#2f3468" stroke-width="2.0"/>
<line x1="1351.36" y1="629.00" x2="1360.96" y2="629.00" stroke="#2f3468" stroke-width="2.0"/>
<circle cx="1356.16" cy="620.70" r="5.6" fill="#2f3468"/>
<line x1="1076.10" y1="450.00" x2="1100.40" y2="450.00" stroke="#2a2a2a" stroke-width="2.0"/>
<circle cx="1088.10" cy="450.00" r="5.6" fill="#2f3468"/>
<line x1="1076.10" y1="482.30" x2="1100.40" y2="482.30" stroke="#2a2a2a" stroke-width="2.0"/>
<rect x="1082.60" y="476.80" width="11" height="11" rx="1" fill="#872a30"/>
<text transform="translate(1114.14 458.20) scale(0.9622 1.0)">pH 7.4</text>
<text transform="translate(1114.13 490.60) scale(0.9703 1.0)">pH 5.0</text>
<text transform="translate(1003.93 439.90) scale(0.9545 1.0)">100</text>
<text transform="translate(1019.36 487.70) scale(0.9493 1.0)">80</text>
<text transform="translate(1019.20 534.40) scale(0.9545 1.0)">60</text>
<text transform="translate(1018.76 582.50) scale(0.9689 1.0)">40</text>
<text transform="translate(1018.47 631.10) scale(0.9783 1.0)">20</text>
<text transform="translate(1034.05 704.60) scale(1.0000 1.0)">0</text>
<text transform="translate(1114.68 704.60) scale(1.0000 1.0)">5</text>
<text transform="translate(1170.14 704.60) scale(0.9857 1.0)">10</text>
<text transform="translate(1232.16 704.60) scale(0.9429 1.0)">15</text>
<text transform="translate(1291.87 704.60) scale(0.9749 1.0)">20</text>
<text transform="translate(1352.61 704.60) scale(0.9511 1.0)">25</text>
<text transform="translate(991.10 651.95) rotate(-90) scale(0.9769 1.0)">Gem release/%</text>
<text transform="translate(1196.07 743.80) scale(1.0000 1.0)" font-style="italic">t</text>
<text transform="translate(1206.80 743.80) scale(0.9518 1.0)">/h</text>
<text x="1386.9" y="547.5" text-anchor="middle" style="font-size:21px;stroke:none;fill:#333;font-family:'Noto Serif CJK SC','Noto Sans CJK SC','DejaVu Sans',serif">①</text>
<path d="M1534.00 425.00 L1524.00 425.00 L1524.00 668.80 L1831.00 668.80 L1831.00 659.30" fill="none" stroke="#111" stroke-width="2.2" stroke-linejoin="miter"/>
<line x1="1524.00" y1="486.20" x2="1534.00" y2="486.20" stroke="#111" stroke-width="2.0"/>
<line x1="1524.00" y1="547.10" x2="1534.00" y2="547.10" stroke="#111" stroke-width="2.0"/>
<line x1="1524.00" y1="608.10" x2="1534.00" y2="608.10" stroke="#111" stroke-width="2.0"/>
<line x1="1585.50" y1="668.80" x2="1585.50" y2="659.30" stroke="#111" stroke-width="2.0"/>
<line x1="1646.70" y1="668.80" x2="1646.70" y2="659.30" stroke="#111" stroke-width="2.0"/>
<line x1="1708.10" y1="668.80" x2="1708.10" y2="659.30" stroke="#111" stroke-width="2.0"/>
<line x1="1769.30" y1="668.80" x2="1769.30" y2="659.30" stroke="#111" stroke-width="2.0"/>
<path d="M1827.10 463.80 L1837.10 463.80 L1837.10 608.10 L1827.10 608.10" fill="none" stroke="#111" stroke-width="2.0" stroke-linejoin="miter"/>
<path d="M1524.00 668.80 L1536.28 641.00 L1548.56 619.00 L1573.12 597.40 L1597.68 577.10 L1622.24 548.30 L1671.36 515.50 L1818.72 465.50" fill="none" stroke="#2a2a2a" stroke-width="2.0" stroke-linejoin="miter"/>
<path d="M1524.00 668.80 L1536.28 656.40 L1548.56 651.20 L1573.12 641.00 L1597.68 629.50 L1622.24 623.10 L1671.36 617.10 L1818.72 609.50" fill="none" stroke="#2a2a2a" stroke-width="2.0" stroke-linejoin="miter"/>
<rect x="1518.50" y="663.30" width="11" height="11" rx="1" fill="#872a30"/>
<rect x="1530.78" y="635.50" width="11" height="11" rx="1" fill="#872a30"/>
<rect x="1543.06" y="613.50" width="11" height="11" rx="1" fill="#872a30"/>
<line x1="1573.12" y1="583.10" x2="1573.12" y2="611.20" stroke="#872a30" stroke-width="2.0"/>
<line x1="1568.32" y1="583.10" x2="1577.92" y2="583.10" stroke="#872a30" stroke-width="2.0"/>
<line x1="1568.32" y1="611.20" x2="1577.92" y2="611.20" stroke="#872a30" stroke-width="2.0"/>
<rect x="1567.62" y="591.90" width="11" height="11" rx="1" fill="#872a30"/>
<line x1="1597.68" y1="566.00" x2="1597.68" y2="589.00" stroke="#872a30" stroke-width="2.0"/>
<line x1="1592.88" y1="566.00" x2="1602.48" y2="566.00" stroke="#872a30" stroke-width="2.0"/>
<line x1="1592.88" y1="589.00" x2="1602.48" y2="589.00" stroke="#872a30" stroke-width="2.0"/>
<rect x="1592.18" y="571.60" width="11" height="11" rx="1" fill="#872a30"/>
<line x1="1622.24" y1="536.90" x2="1622.24" y2="559.00" stroke="#872a30" stroke-width="2.0"/>
<line x1="1617.44" y1="536.90" x2="1627.04" y2="536.90" stroke="#872a30" stroke-width="2.0"/>
<line x1="1617.44" y1="559.00" x2="1627.04" y2="559.00" stroke="#872a30" stroke-width="2.0"/>
<rect x="1616.74" y="542.80" width="11" height="11" rx="1" fill="#872a30"/>
<line x1="1671.36" y1="493.60" x2="1671.36" y2="536.40" stroke="#872a30" stroke-width="2.0"/>
<line x1="1666.56" y1="493.60" x2="1676.16" y2="493.60" stroke="#872a30" stroke-width="2.0"/>
<line x1="1666.56" y1="536.40" x2="1676.16" y2="536.40" stroke="#872a30" stroke-width="2.0"/>
<rect x="1665.86" y="510.00" width="11" height="11" rx="1" fill="#872a30"/>
<line x1="1818.72" y1="447.60" x2="1818.72" y2="483.30" stroke="#872a30" stroke-width="2.0"/>
<line x1="1813.92" y1="447.60" x2="1823.52" y2="447.60" stroke="#872a30" stroke-width="2.0"/>
<line x1="1813.92" y1="483.30" x2="1823.52" y2="483.30" stroke="#872a30" stroke-width="2.0"/>
<rect x="1813.22" y="460.00" width="11" height="11" rx="1" fill="#872a30"/>
<circle cx="1524.00" cy="668.80" r="5.6" fill="#2f3468"/>
<circle cx="1536.28" cy="656.40" r="5.6" fill="#2f3468"/>
<circle cx="1548.56" cy="651.20" r="5.6" fill="#2f3468"/>
<line x1="1573.12" y1="635.00" x2="1573.12" y2="646.90" stroke="#2f3468" stroke-width="2.0"/>
<line x1="1568.32" y1="635.00" x2="1577.92" y2="635.00" stroke="#2f3468" stroke-width="2.0"/>
<line x1="1568.32" y1="646.90" x2="1577.92" y2="646.90" stroke="#2f3468" stroke-width="2.0"/>
<circle cx="1573.12" cy="641.00" r="5.6" fill="#2f3468"/>
<line x1="1597.68" y1="620.70" x2="1597.68" y2="637.90" stroke="#2f3468" stroke-width="2.0"/>
<line x1="1592.88" y1="620.70" x2="1602.48" y2="620.70" stroke="#2f3468" stroke-width="2.0"/>
<line x1="1592.88" y1="637.90" x2="1602.48" y2="637.90" stroke="#2f3468" stroke-width="2.0"/>
<circle cx="1597.68" cy="629.50" r="5.6" fill="#2f3468"/>
<line x1="1622.24" y1="616.40" x2="1622.24" y2="630.20" stroke="#2f3468" stroke-width="2.0"/>
<line x1="1617.44" y1="616.40" x2="1627.04" y2="616.40" stroke="#2f3468" stroke-width="2.0"/>
<line x1="1617.44" y1="630.20" x2="1627.04" y2="630.20" stroke="#2f3468" stroke-width="2.0"/>
<circle cx="1622.24" cy="623.10" r="5.6" fill="#2f3468"/>
<line x1="1671.36" y1="610.70" x2="1671.36" y2="623.80" stroke="#2f3468" stroke-width="2.0"/>
<line x1="1666.56" y1="610.70" x2="1676.16" y2="610.70" stroke="#2f3468" stroke-width="2.0"/>
<line x1="1666.56" y1="623.80" x2="1676.16" y2="623.80" stroke="#2f3468" stroke-width="2.0"/>
<circle cx="1671.36" cy="617.10" r="5.6" fill="#2f3468"/>
<line x1="1818.72" y1="598.80" x2="1818.72" y2="620.00" stroke="#2f3468" stroke-width="2.0"/>
<line x1="1813.92" y1="598.80" x2="1823.52" y2="598.80" stroke="#2f3468" stroke-width="2.0"/>
<line x1="1813.92" y1="620.00" x2="1823.52" y2="620.00" stroke="#2f3468" stroke-width="2.0"/>
<circle cx="1818.72" cy="609.50" r="5.6" fill="#2f3468"/>
<line x1="1536.60" y1="448.30" x2="1560.90" y2="448.30" stroke="#2a2a2a" stroke-width="2.0"/>
<circle cx="1548.60" cy="448.30" r="5.6" fill="#2f3468"/>
<line x1="1536.60" y1="481.00" x2="1560.90" y2="481.00" stroke="#2a2a2a" stroke-width="2.0"/>
<rect x="1543.10" y="475.50" width="11" height="11" rx="1" fill="#872a30"/>
<text transform="translate(1574.64 456.60) scale(0.9540 1.0)">pH 7.4</text>
<text transform="translate(1574.64 489.20) scale(0.9621 1.0)">pH 5.0</text>
<text transform="translate(1477.38 432.70) scale(1.0135 1.0)">80</text>
<text transform="translate(1477.21 493.90) scale(1.0190 1.0)">60</text>
<text transform="translate(1477.23 554.90) scale(1.0185 1.0)">40</text>
<text transform="translate(1477.25 616.30) scale(0.9918 1.0)">20</text>
<text transform="translate(1494.20 704.60) scale(1.0000 1.0)">0</text>
<text transform="translate(1575.53 704.60) scale(1.0000 1.0)">5</text>
<text transform="translate(1631.84 704.60) scale(0.9857 1.0)">10</text>
<text transform="translate(1693.36 704.60) scale(0.9429 1.0)">15</text>
<text transform="translate(1753.44 704.60) scale(1.0020 1.0)">20</text>
<text transform="translate(1814.69 704.60) scale(0.9613 1.0)">25</text>
<text transform="translate(1462.30 632.15) rotate(-90) scale(0.9736 1.0)">Ce6 release/%</text>
<text transform="translate(1659.87 743.80) scale(1.0000 1.0)" font-style="italic">t</text>
<text transform="translate(1670.60 743.80) scale(0.9559 1.0)">/h</text>
<text x="1849.8" y="546.9" text-anchor="middle" style="font-size:21px;stroke:none;fill:#333;font-family:'Noto Serif CJK SC','Noto Sans CJK SC','DejaVu Sans',serif">②</text>
</svg></body></html>
